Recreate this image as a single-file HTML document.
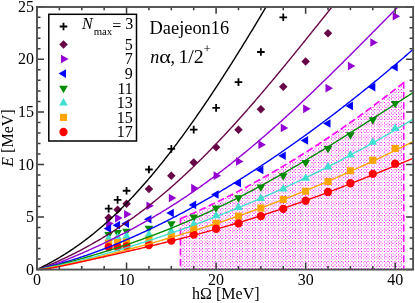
<!DOCTYPE html><html><head><meta charset="utf-8"><style>html,body{margin:0;padding:0;background:#fff}svg{display:block;will-change:transform}text{font-family:"Liberation Serif",serif;fill:#000}</style></head><body>
<svg width="415" height="303" viewBox="0 0 415 303">
<defs><pattern id="pt" x="345" y="222" width="53" height="53" patternUnits="userSpaceOnUse"><g fill="#ff00ff" shape-rendering="crispEdges"><path fill-opacity="1" d="M0,0h1v1h-1zM3,0h1v1h-1zM13,0h1v1h-1zM16,0h1v1h-1zM26,0h1v1h-1zM29,0h1v1h-1zM39,0h1v1h-1zM46,0h1v1h-1zM0,3h1v1h-1zM3,3h1v1h-1zM13,3h1v1h-1zM16,3h1v1h-1zM26,3h1v1h-1zM29,3h1v1h-1zM39,3h1v1h-1zM46,3h1v1h-1zM8,8h1v1h-1zM21,8h1v1h-1zM34,8h1v1h-1zM44,8h1v1h-1zM51,8h1v1h-1zM0,13h1v1h-1zM3,13h1v1h-1zM13,13h1v1h-1zM16,13h1v1h-1zM26,13h1v1h-1zM29,13h1v1h-1zM39,13h1v1h-1zM46,13h1v1h-1zM0,16h1v1h-1zM3,16h1v1h-1zM13,16h1v1h-1zM16,16h1v1h-1zM26,16h1v1h-1zM29,16h1v1h-1zM39,16h1v1h-1zM46,16h1v1h-1zM8,21h1v1h-1zM21,21h1v1h-1zM34,21h1v1h-1zM44,21h1v1h-1zM51,21h1v1h-1zM0,26h1v1h-1zM3,26h1v1h-1zM13,26h1v1h-1zM16,26h1v1h-1zM26,26h1v1h-1zM29,26h1v1h-1zM39,26h1v1h-1zM46,26h1v1h-1zM0,29h1v1h-1zM3,29h1v1h-1zM13,29h1v1h-1zM16,29h1v1h-1zM26,29h1v1h-1zM29,29h1v1h-1zM39,29h1v1h-1zM46,29h1v1h-1zM8,34h1v1h-1zM21,34h1v1h-1zM34,34h1v1h-1zM44,34h1v1h-1zM51,34h1v1h-1zM0,39h1v1h-1zM3,39h1v1h-1zM13,39h1v1h-1zM16,39h1v1h-1zM26,39h1v1h-1zM29,39h1v1h-1zM39,39h1v1h-1zM46,39h1v1h-1zM8,44h1v1h-1zM21,44h1v1h-1zM34,44h1v1h-1zM44,44h1v1h-1zM51,44h1v1h-1zM0,46h1v1h-1zM3,46h1v1h-1zM13,46h1v1h-1zM16,46h1v1h-1zM26,46h1v1h-1zM29,46h1v1h-1zM39,46h1v1h-1zM46,46h1v1h-1zM8,51h1v1h-1zM21,51h1v1h-1zM34,51h1v1h-1zM44,51h1v1h-1zM51,51h1v1h-1z"/><path fill-opacity="0.5" d="M6,0h1v1h-1zM7,0h1v1h-1zM9,0h1v1h-1zM10,0h1v1h-1zM19,0h1v1h-1zM20,0h1v1h-1zM22,0h1v1h-1zM23,0h1v1h-1zM32,0h1v1h-1zM33,0h1v1h-1zM35,0h1v1h-1zM36,0h1v1h-1zM42,0h1v1h-1zM43,0h1v1h-1zM49,0h1v1h-1zM50,0h1v1h-1zM8,1h1v1h-1zM21,1h1v1h-1zM34,1h1v1h-1zM44,1h1v1h-1zM51,1h1v1h-1zM8,2h1v1h-1zM21,2h1v1h-1zM34,2h1v1h-1zM44,2h1v1h-1zM51,2h1v1h-1zM6,3h1v1h-1zM7,3h1v1h-1zM9,3h1v1h-1zM10,3h1v1h-1zM19,3h1v1h-1zM20,3h1v1h-1zM22,3h1v1h-1zM23,3h1v1h-1zM32,3h1v1h-1zM33,3h1v1h-1zM35,3h1v1h-1zM36,3h1v1h-1zM42,3h1v1h-1zM43,3h1v1h-1zM49,3h1v1h-1zM50,3h1v1h-1zM8,5h1v1h-1zM21,5h1v1h-1zM34,5h1v1h-1zM44,5h1v1h-1zM51,5h1v1h-1zM0,6h1v1h-1zM3,6h1v1h-1zM13,6h1v1h-1zM16,6h1v1h-1zM26,6h1v1h-1zM29,6h1v1h-1zM39,6h1v1h-1zM46,6h1v1h-1zM0,7h1v1h-1zM3,7h1v1h-1zM13,7h1v1h-1zM16,7h1v1h-1zM26,7h1v1h-1zM29,7h1v1h-1zM39,7h1v1h-1zM46,7h1v1h-1zM1,8h1v1h-1zM2,8h1v1h-1zM5,8h1v1h-1zM11,8h1v1h-1zM14,8h1v1h-1zM15,8h1v1h-1zM18,8h1v1h-1zM24,8h1v1h-1zM27,8h1v1h-1zM28,8h1v1h-1zM31,8h1v1h-1zM37,8h1v1h-1zM40,8h1v1h-1zM41,8h1v1h-1zM47,8h1v1h-1zM48,8h1v1h-1zM0,9h1v1h-1zM3,9h1v1h-1zM13,9h1v1h-1zM16,9h1v1h-1zM26,9h1v1h-1zM29,9h1v1h-1zM39,9h1v1h-1zM46,9h1v1h-1zM0,10h1v1h-1zM3,10h1v1h-1zM13,10h1v1h-1zM16,10h1v1h-1zM26,10h1v1h-1zM29,10h1v1h-1zM39,10h1v1h-1zM46,10h1v1h-1zM8,11h1v1h-1zM21,11h1v1h-1zM34,11h1v1h-1zM44,11h1v1h-1zM51,11h1v1h-1zM6,13h1v1h-1zM7,13h1v1h-1zM9,13h1v1h-1zM10,13h1v1h-1zM19,13h1v1h-1zM20,13h1v1h-1zM22,13h1v1h-1zM23,13h1v1h-1zM32,13h1v1h-1zM33,13h1v1h-1zM35,13h1v1h-1zM36,13h1v1h-1zM42,13h1v1h-1zM43,13h1v1h-1zM49,13h1v1h-1zM50,13h1v1h-1zM8,14h1v1h-1zM21,14h1v1h-1zM34,14h1v1h-1zM44,14h1v1h-1zM51,14h1v1h-1zM8,15h1v1h-1zM21,15h1v1h-1zM34,15h1v1h-1zM44,15h1v1h-1zM51,15h1v1h-1zM6,16h1v1h-1zM7,16h1v1h-1zM9,16h1v1h-1zM10,16h1v1h-1zM19,16h1v1h-1zM20,16h1v1h-1zM22,16h1v1h-1zM23,16h1v1h-1zM32,16h1v1h-1zM33,16h1v1h-1zM35,16h1v1h-1zM36,16h1v1h-1zM42,16h1v1h-1zM43,16h1v1h-1zM49,16h1v1h-1zM50,16h1v1h-1zM8,18h1v1h-1zM21,18h1v1h-1zM34,18h1v1h-1zM44,18h1v1h-1zM51,18h1v1h-1zM0,19h1v1h-1zM3,19h1v1h-1zM13,19h1v1h-1zM16,19h1v1h-1zM26,19h1v1h-1zM29,19h1v1h-1zM39,19h1v1h-1zM46,19h1v1h-1zM0,20h1v1h-1zM3,20h1v1h-1zM13,20h1v1h-1zM16,20h1v1h-1zM26,20h1v1h-1zM29,20h1v1h-1zM39,20h1v1h-1zM46,20h1v1h-1zM1,21h1v1h-1zM2,21h1v1h-1zM5,21h1v1h-1zM11,21h1v1h-1zM14,21h1v1h-1zM15,21h1v1h-1zM18,21h1v1h-1zM24,21h1v1h-1zM27,21h1v1h-1zM28,21h1v1h-1zM31,21h1v1h-1zM37,21h1v1h-1zM40,21h1v1h-1zM41,21h1v1h-1zM47,21h1v1h-1zM48,21h1v1h-1zM0,22h1v1h-1zM3,22h1v1h-1zM13,22h1v1h-1zM16,22h1v1h-1zM26,22h1v1h-1zM29,22h1v1h-1zM39,22h1v1h-1zM46,22h1v1h-1zM0,23h1v1h-1zM3,23h1v1h-1zM13,23h1v1h-1zM16,23h1v1h-1zM26,23h1v1h-1zM29,23h1v1h-1zM39,23h1v1h-1zM46,23h1v1h-1zM8,24h1v1h-1zM21,24h1v1h-1zM34,24h1v1h-1zM44,24h1v1h-1zM51,24h1v1h-1zM6,26h1v1h-1zM7,26h1v1h-1zM9,26h1v1h-1zM10,26h1v1h-1zM19,26h1v1h-1zM20,26h1v1h-1zM22,26h1v1h-1zM23,26h1v1h-1zM32,26h1v1h-1zM33,26h1v1h-1zM35,26h1v1h-1zM36,26h1v1h-1zM42,26h1v1h-1zM43,26h1v1h-1zM49,26h1v1h-1zM50,26h1v1h-1zM8,27h1v1h-1zM21,27h1v1h-1zM34,27h1v1h-1zM44,27h1v1h-1zM51,27h1v1h-1zM8,28h1v1h-1zM21,28h1v1h-1zM34,28h1v1h-1zM44,28h1v1h-1zM51,28h1v1h-1zM6,29h1v1h-1zM7,29h1v1h-1zM9,29h1v1h-1zM10,29h1v1h-1zM19,29h1v1h-1zM20,29h1v1h-1zM22,29h1v1h-1zM23,29h1v1h-1zM32,29h1v1h-1zM33,29h1v1h-1zM35,29h1v1h-1zM36,29h1v1h-1zM42,29h1v1h-1zM43,29h1v1h-1zM49,29h1v1h-1zM50,29h1v1h-1zM8,31h1v1h-1zM21,31h1v1h-1zM34,31h1v1h-1zM44,31h1v1h-1zM51,31h1v1h-1zM0,32h1v1h-1zM3,32h1v1h-1zM13,32h1v1h-1zM16,32h1v1h-1zM26,32h1v1h-1zM29,32h1v1h-1zM39,32h1v1h-1zM46,32h1v1h-1zM0,33h1v1h-1zM3,33h1v1h-1zM13,33h1v1h-1zM16,33h1v1h-1zM26,33h1v1h-1zM29,33h1v1h-1zM39,33h1v1h-1zM46,33h1v1h-1zM1,34h1v1h-1zM2,34h1v1h-1zM5,34h1v1h-1zM11,34h1v1h-1zM14,34h1v1h-1zM15,34h1v1h-1zM18,34h1v1h-1zM24,34h1v1h-1zM27,34h1v1h-1zM28,34h1v1h-1zM31,34h1v1h-1zM37,34h1v1h-1zM40,34h1v1h-1zM41,34h1v1h-1zM47,34h1v1h-1zM48,34h1v1h-1zM0,35h1v1h-1zM3,35h1v1h-1zM13,35h1v1h-1zM16,35h1v1h-1zM26,35h1v1h-1zM29,35h1v1h-1zM39,35h1v1h-1zM46,35h1v1h-1zM0,36h1v1h-1zM3,36h1v1h-1zM13,36h1v1h-1zM16,36h1v1h-1zM26,36h1v1h-1zM29,36h1v1h-1zM39,36h1v1h-1zM46,36h1v1h-1zM8,37h1v1h-1zM21,37h1v1h-1zM34,37h1v1h-1zM44,37h1v1h-1zM51,37h1v1h-1zM6,39h1v1h-1zM7,39h1v1h-1zM9,39h1v1h-1zM10,39h1v1h-1zM19,39h1v1h-1zM20,39h1v1h-1zM22,39h1v1h-1zM23,39h1v1h-1zM32,39h1v1h-1zM33,39h1v1h-1zM35,39h1v1h-1zM36,39h1v1h-1zM42,39h1v1h-1zM43,39h1v1h-1zM49,39h1v1h-1zM50,39h1v1h-1zM8,40h1v1h-1zM21,40h1v1h-1zM34,40h1v1h-1zM44,40h1v1h-1zM51,40h1v1h-1zM8,41h1v1h-1zM21,41h1v1h-1zM34,41h1v1h-1zM44,41h1v1h-1zM51,41h1v1h-1zM0,42h1v1h-1zM3,42h1v1h-1zM13,42h1v1h-1zM16,42h1v1h-1zM26,42h1v1h-1zM29,42h1v1h-1zM39,42h1v1h-1zM46,42h1v1h-1zM0,43h1v1h-1zM3,43h1v1h-1zM13,43h1v1h-1zM16,43h1v1h-1zM26,43h1v1h-1zM29,43h1v1h-1zM39,43h1v1h-1zM46,43h1v1h-1zM1,44h1v1h-1zM2,44h1v1h-1zM5,44h1v1h-1zM11,44h1v1h-1zM14,44h1v1h-1zM15,44h1v1h-1zM18,44h1v1h-1zM24,44h1v1h-1zM27,44h1v1h-1zM28,44h1v1h-1zM31,44h1v1h-1zM37,44h1v1h-1zM40,44h1v1h-1zM41,44h1v1h-1zM47,44h1v1h-1zM48,44h1v1h-1zM6,46h1v1h-1zM7,46h1v1h-1zM9,46h1v1h-1zM10,46h1v1h-1zM19,46h1v1h-1zM20,46h1v1h-1zM22,46h1v1h-1zM23,46h1v1h-1zM32,46h1v1h-1zM33,46h1v1h-1zM35,46h1v1h-1zM36,46h1v1h-1zM42,46h1v1h-1zM43,46h1v1h-1zM49,46h1v1h-1zM50,46h1v1h-1zM8,47h1v1h-1zM21,47h1v1h-1zM34,47h1v1h-1zM44,47h1v1h-1zM51,47h1v1h-1zM8,48h1v1h-1zM21,48h1v1h-1zM34,48h1v1h-1zM44,48h1v1h-1zM51,48h1v1h-1zM0,49h1v1h-1zM3,49h1v1h-1zM13,49h1v1h-1zM16,49h1v1h-1zM26,49h1v1h-1zM29,49h1v1h-1zM39,49h1v1h-1zM46,49h1v1h-1zM0,50h1v1h-1zM3,50h1v1h-1zM13,50h1v1h-1zM16,50h1v1h-1zM26,50h1v1h-1zM29,50h1v1h-1zM39,50h1v1h-1zM46,50h1v1h-1zM1,51h1v1h-1zM2,51h1v1h-1zM5,51h1v1h-1zM11,51h1v1h-1zM14,51h1v1h-1zM15,51h1v1h-1zM18,51h1v1h-1zM24,51h1v1h-1zM27,51h1v1h-1zM28,51h1v1h-1zM31,51h1v1h-1zM37,51h1v1h-1zM40,51h1v1h-1zM41,51h1v1h-1zM47,51h1v1h-1zM48,51h1v1h-1z"/><path fill-opacity="0.25" d="M1,1h1v1h-1zM2,1h1v1h-1zM5,1h1v1h-1zM11,1h1v1h-1zM14,1h1v1h-1zM15,1h1v1h-1zM18,1h1v1h-1zM24,1h1v1h-1zM27,1h1v1h-1zM28,1h1v1h-1zM31,1h1v1h-1zM37,1h1v1h-1zM40,1h1v1h-1zM41,1h1v1h-1zM47,1h1v1h-1zM48,1h1v1h-1zM1,2h1v1h-1zM2,2h1v1h-1zM5,2h1v1h-1zM11,2h1v1h-1zM14,2h1v1h-1zM15,2h1v1h-1zM18,2h1v1h-1zM24,2h1v1h-1zM27,2h1v1h-1zM28,2h1v1h-1zM31,2h1v1h-1zM37,2h1v1h-1zM40,2h1v1h-1zM41,2h1v1h-1zM47,2h1v1h-1zM48,2h1v1h-1zM1,5h1v1h-1zM2,5h1v1h-1zM5,5h1v1h-1zM11,5h1v1h-1zM14,5h1v1h-1zM15,5h1v1h-1zM18,5h1v1h-1zM24,5h1v1h-1zM27,5h1v1h-1zM28,5h1v1h-1zM31,5h1v1h-1zM37,5h1v1h-1zM40,5h1v1h-1zM41,5h1v1h-1zM47,5h1v1h-1zM48,5h1v1h-1zM6,6h1v1h-1zM7,6h1v1h-1zM9,6h1v1h-1zM10,6h1v1h-1zM19,6h1v1h-1zM20,6h1v1h-1zM22,6h1v1h-1zM23,6h1v1h-1zM32,6h1v1h-1zM33,6h1v1h-1zM35,6h1v1h-1zM36,6h1v1h-1zM42,6h1v1h-1zM43,6h1v1h-1zM49,6h1v1h-1zM50,6h1v1h-1zM6,7h1v1h-1zM7,7h1v1h-1zM9,7h1v1h-1zM10,7h1v1h-1zM19,7h1v1h-1zM20,7h1v1h-1zM22,7h1v1h-1zM23,7h1v1h-1zM32,7h1v1h-1zM33,7h1v1h-1zM35,7h1v1h-1zM36,7h1v1h-1zM42,7h1v1h-1zM43,7h1v1h-1zM49,7h1v1h-1zM50,7h1v1h-1zM6,9h1v1h-1zM7,9h1v1h-1zM9,9h1v1h-1zM10,9h1v1h-1zM19,9h1v1h-1zM20,9h1v1h-1zM22,9h1v1h-1zM23,9h1v1h-1zM32,9h1v1h-1zM33,9h1v1h-1zM35,9h1v1h-1zM36,9h1v1h-1zM42,9h1v1h-1zM43,9h1v1h-1zM49,9h1v1h-1zM50,9h1v1h-1zM6,10h1v1h-1zM7,10h1v1h-1zM9,10h1v1h-1zM10,10h1v1h-1zM19,10h1v1h-1zM20,10h1v1h-1zM22,10h1v1h-1zM23,10h1v1h-1zM32,10h1v1h-1zM33,10h1v1h-1zM35,10h1v1h-1zM36,10h1v1h-1zM42,10h1v1h-1zM43,10h1v1h-1zM49,10h1v1h-1zM50,10h1v1h-1zM1,11h1v1h-1zM2,11h1v1h-1zM5,11h1v1h-1zM11,11h1v1h-1zM14,11h1v1h-1zM15,11h1v1h-1zM18,11h1v1h-1zM24,11h1v1h-1zM27,11h1v1h-1zM28,11h1v1h-1zM31,11h1v1h-1zM37,11h1v1h-1zM40,11h1v1h-1zM41,11h1v1h-1zM47,11h1v1h-1zM48,11h1v1h-1zM1,14h1v1h-1zM2,14h1v1h-1zM5,14h1v1h-1zM11,14h1v1h-1zM14,14h1v1h-1zM15,14h1v1h-1zM18,14h1v1h-1zM24,14h1v1h-1zM27,14h1v1h-1zM28,14h1v1h-1zM31,14h1v1h-1zM37,14h1v1h-1zM40,14h1v1h-1zM41,14h1v1h-1zM47,14h1v1h-1zM48,14h1v1h-1zM1,15h1v1h-1zM2,15h1v1h-1zM5,15h1v1h-1zM11,15h1v1h-1zM14,15h1v1h-1zM15,15h1v1h-1zM18,15h1v1h-1zM24,15h1v1h-1zM27,15h1v1h-1zM28,15h1v1h-1zM31,15h1v1h-1zM37,15h1v1h-1zM40,15h1v1h-1zM41,15h1v1h-1zM47,15h1v1h-1zM48,15h1v1h-1zM1,18h1v1h-1zM2,18h1v1h-1zM5,18h1v1h-1zM11,18h1v1h-1zM14,18h1v1h-1zM15,18h1v1h-1zM18,18h1v1h-1zM24,18h1v1h-1zM27,18h1v1h-1zM28,18h1v1h-1zM31,18h1v1h-1zM37,18h1v1h-1zM40,18h1v1h-1zM41,18h1v1h-1zM47,18h1v1h-1zM48,18h1v1h-1zM6,19h1v1h-1zM7,19h1v1h-1zM9,19h1v1h-1zM10,19h1v1h-1zM19,19h1v1h-1zM20,19h1v1h-1zM22,19h1v1h-1zM23,19h1v1h-1zM32,19h1v1h-1zM33,19h1v1h-1zM35,19h1v1h-1zM36,19h1v1h-1zM42,19h1v1h-1zM43,19h1v1h-1zM49,19h1v1h-1zM50,19h1v1h-1zM6,20h1v1h-1zM7,20h1v1h-1zM9,20h1v1h-1zM10,20h1v1h-1zM19,20h1v1h-1zM20,20h1v1h-1zM22,20h1v1h-1zM23,20h1v1h-1zM32,20h1v1h-1zM33,20h1v1h-1zM35,20h1v1h-1zM36,20h1v1h-1zM42,20h1v1h-1zM43,20h1v1h-1zM49,20h1v1h-1zM50,20h1v1h-1zM6,22h1v1h-1zM7,22h1v1h-1zM9,22h1v1h-1zM10,22h1v1h-1zM19,22h1v1h-1zM20,22h1v1h-1zM22,22h1v1h-1zM23,22h1v1h-1zM32,22h1v1h-1zM33,22h1v1h-1zM35,22h1v1h-1zM36,22h1v1h-1zM42,22h1v1h-1zM43,22h1v1h-1zM49,22h1v1h-1zM50,22h1v1h-1zM6,23h1v1h-1zM7,23h1v1h-1zM9,23h1v1h-1zM10,23h1v1h-1zM19,23h1v1h-1zM20,23h1v1h-1zM22,23h1v1h-1zM23,23h1v1h-1zM32,23h1v1h-1zM33,23h1v1h-1zM35,23h1v1h-1zM36,23h1v1h-1zM42,23h1v1h-1zM43,23h1v1h-1zM49,23h1v1h-1zM50,23h1v1h-1zM1,24h1v1h-1zM2,24h1v1h-1zM5,24h1v1h-1zM11,24h1v1h-1zM14,24h1v1h-1zM15,24h1v1h-1zM18,24h1v1h-1zM24,24h1v1h-1zM27,24h1v1h-1zM28,24h1v1h-1zM31,24h1v1h-1zM37,24h1v1h-1zM40,24h1v1h-1zM41,24h1v1h-1zM47,24h1v1h-1zM48,24h1v1h-1zM1,27h1v1h-1zM2,27h1v1h-1zM5,27h1v1h-1zM11,27h1v1h-1zM14,27h1v1h-1zM15,27h1v1h-1zM18,27h1v1h-1zM24,27h1v1h-1zM27,27h1v1h-1zM28,27h1v1h-1zM31,27h1v1h-1zM37,27h1v1h-1zM40,27h1v1h-1zM41,27h1v1h-1zM47,27h1v1h-1zM48,27h1v1h-1zM1,28h1v1h-1zM2,28h1v1h-1zM5,28h1v1h-1zM11,28h1v1h-1zM14,28h1v1h-1zM15,28h1v1h-1zM18,28h1v1h-1zM24,28h1v1h-1zM27,28h1v1h-1zM28,28h1v1h-1zM31,28h1v1h-1zM37,28h1v1h-1zM40,28h1v1h-1zM41,28h1v1h-1zM47,28h1v1h-1zM48,28h1v1h-1zM1,31h1v1h-1zM2,31h1v1h-1zM5,31h1v1h-1zM11,31h1v1h-1zM14,31h1v1h-1zM15,31h1v1h-1zM18,31h1v1h-1zM24,31h1v1h-1zM27,31h1v1h-1zM28,31h1v1h-1zM31,31h1v1h-1zM37,31h1v1h-1zM40,31h1v1h-1zM41,31h1v1h-1zM47,31h1v1h-1zM48,31h1v1h-1zM6,32h1v1h-1zM7,32h1v1h-1zM9,32h1v1h-1zM10,32h1v1h-1zM19,32h1v1h-1zM20,32h1v1h-1zM22,32h1v1h-1zM23,32h1v1h-1zM32,32h1v1h-1zM33,32h1v1h-1zM35,32h1v1h-1zM36,32h1v1h-1zM42,32h1v1h-1zM43,32h1v1h-1zM49,32h1v1h-1zM50,32h1v1h-1zM6,33h1v1h-1zM7,33h1v1h-1zM9,33h1v1h-1zM10,33h1v1h-1zM19,33h1v1h-1zM20,33h1v1h-1zM22,33h1v1h-1zM23,33h1v1h-1zM32,33h1v1h-1zM33,33h1v1h-1zM35,33h1v1h-1zM36,33h1v1h-1zM42,33h1v1h-1zM43,33h1v1h-1zM49,33h1v1h-1zM50,33h1v1h-1zM6,35h1v1h-1zM7,35h1v1h-1zM9,35h1v1h-1zM10,35h1v1h-1zM19,35h1v1h-1zM20,35h1v1h-1zM22,35h1v1h-1zM23,35h1v1h-1zM32,35h1v1h-1zM33,35h1v1h-1zM35,35h1v1h-1zM36,35h1v1h-1zM42,35h1v1h-1zM43,35h1v1h-1zM49,35h1v1h-1zM50,35h1v1h-1zM6,36h1v1h-1zM7,36h1v1h-1zM9,36h1v1h-1zM10,36h1v1h-1zM19,36h1v1h-1zM20,36h1v1h-1zM22,36h1v1h-1zM23,36h1v1h-1zM32,36h1v1h-1zM33,36h1v1h-1zM35,36h1v1h-1zM36,36h1v1h-1zM42,36h1v1h-1zM43,36h1v1h-1zM49,36h1v1h-1zM50,36h1v1h-1zM1,37h1v1h-1zM2,37h1v1h-1zM5,37h1v1h-1zM11,37h1v1h-1zM14,37h1v1h-1zM15,37h1v1h-1zM18,37h1v1h-1zM24,37h1v1h-1zM27,37h1v1h-1zM28,37h1v1h-1zM31,37h1v1h-1zM37,37h1v1h-1zM40,37h1v1h-1zM41,37h1v1h-1zM47,37h1v1h-1zM48,37h1v1h-1zM1,40h1v1h-1zM2,40h1v1h-1zM5,40h1v1h-1zM11,40h1v1h-1zM14,40h1v1h-1zM15,40h1v1h-1zM18,40h1v1h-1zM24,40h1v1h-1zM27,40h1v1h-1zM28,40h1v1h-1zM31,40h1v1h-1zM37,40h1v1h-1zM40,40h1v1h-1zM41,40h1v1h-1zM47,40h1v1h-1zM48,40h1v1h-1zM1,41h1v1h-1zM2,41h1v1h-1zM5,41h1v1h-1zM11,41h1v1h-1zM14,41h1v1h-1zM15,41h1v1h-1zM18,41h1v1h-1zM24,41h1v1h-1zM27,41h1v1h-1zM28,41h1v1h-1zM31,41h1v1h-1zM37,41h1v1h-1zM40,41h1v1h-1zM41,41h1v1h-1zM47,41h1v1h-1zM48,41h1v1h-1zM6,42h1v1h-1zM7,42h1v1h-1zM9,42h1v1h-1zM10,42h1v1h-1zM19,42h1v1h-1zM20,42h1v1h-1zM22,42h1v1h-1zM23,42h1v1h-1zM32,42h1v1h-1zM33,42h1v1h-1zM35,42h1v1h-1zM36,42h1v1h-1zM42,42h1v1h-1zM43,42h1v1h-1zM49,42h1v1h-1zM50,42h1v1h-1zM6,43h1v1h-1zM7,43h1v1h-1zM9,43h1v1h-1zM10,43h1v1h-1zM19,43h1v1h-1zM20,43h1v1h-1zM22,43h1v1h-1zM23,43h1v1h-1zM32,43h1v1h-1zM33,43h1v1h-1zM35,43h1v1h-1zM36,43h1v1h-1zM42,43h1v1h-1zM43,43h1v1h-1zM49,43h1v1h-1zM50,43h1v1h-1zM1,47h1v1h-1zM2,47h1v1h-1zM5,47h1v1h-1zM11,47h1v1h-1zM14,47h1v1h-1zM15,47h1v1h-1zM18,47h1v1h-1zM24,47h1v1h-1zM27,47h1v1h-1zM28,47h1v1h-1zM31,47h1v1h-1zM37,47h1v1h-1zM40,47h1v1h-1zM41,47h1v1h-1zM47,47h1v1h-1zM48,47h1v1h-1zM1,48h1v1h-1zM2,48h1v1h-1zM5,48h1v1h-1zM11,48h1v1h-1zM14,48h1v1h-1zM15,48h1v1h-1zM18,48h1v1h-1zM24,48h1v1h-1zM27,48h1v1h-1zM28,48h1v1h-1zM31,48h1v1h-1zM37,48h1v1h-1zM40,48h1v1h-1zM41,48h1v1h-1zM47,48h1v1h-1zM48,48h1v1h-1zM6,49h1v1h-1zM7,49h1v1h-1zM9,49h1v1h-1zM10,49h1v1h-1zM19,49h1v1h-1zM20,49h1v1h-1zM22,49h1v1h-1zM23,49h1v1h-1zM32,49h1v1h-1zM33,49h1v1h-1zM35,49h1v1h-1zM36,49h1v1h-1zM42,49h1v1h-1zM43,49h1v1h-1zM49,49h1v1h-1zM50,49h1v1h-1zM6,50h1v1h-1zM7,50h1v1h-1zM9,50h1v1h-1zM10,50h1v1h-1zM19,50h1v1h-1zM20,50h1v1h-1zM22,50h1v1h-1zM23,50h1v1h-1zM32,50h1v1h-1zM33,50h1v1h-1zM35,50h1v1h-1zM36,50h1v1h-1zM42,50h1v1h-1zM43,50h1v1h-1zM49,50h1v1h-1zM50,50h1v1h-1z"/></g></pattern>
<clipPath id="cp"><rect x="37.0" y="6.8" width="376.1" height="262.75"/></clipPath></defs>
<rect x="0" y="0" width="415" height="303" fill="#fff"/>
<polygon points="180.46,269.55 180.46,218.78 184.92,216.84 189.38,214.88 193.85,212.88 198.31,210.85 202.78,208.79 207.24,206.70 211.71,204.57 216.17,202.42 220.64,200.23 225.10,198.00 229.57,195.75 234.03,193.46 238.50,191.14 242.96,188.79 247.43,186.40 251.89,183.99 256.36,181.54 260.82,179.06 265.29,176.55 269.75,174.00 274.22,171.42 278.68,168.81 283.15,166.17 287.61,163.49 292.08,160.79 296.54,158.05 301.01,155.28 305.47,152.47 309.94,149.64 314.40,146.77 318.87,143.87 323.33,140.93 327.80,137.97 332.26,134.97 336.72,131.94 341.19,128.88 345.65,125.78 350.12,122.66 354.58,119.50 359.05,116.31 363.51,113.08 367.98,109.83 372.44,106.54 376.91,103.22 381.37,99.86 385.84,96.48 390.30,93.06 394.77,89.61 399.23,86.13 403.70,82.61 403.70,269.55" fill="url(#pt)"/>
<g fill="none" stroke="#ff00ff" stroke-width="1.6" stroke-dasharray="7 3.2"><polyline points="403.70,82.61 399.23,86.13 394.77,89.61 390.30,93.06 385.84,96.48 381.37,99.86 376.91,103.22 372.44,106.54 367.98,109.83 363.51,113.08 359.05,116.31 354.58,119.50 350.12,122.66 345.65,125.78 341.19,128.88 336.72,131.94 332.26,134.97 327.80,137.97 323.33,140.93 318.87,143.87 314.40,146.77 309.94,149.64 305.47,152.47 301.01,155.28 296.54,158.05 292.08,160.79 287.61,163.49 283.15,166.17 278.68,168.81 274.22,171.42 269.75,174.00 265.29,176.55 260.82,179.06 256.36,181.54 251.89,183.99 247.43,186.40 242.96,188.79 238.50,191.14 234.03,193.46 229.57,195.75 225.10,198.00 220.64,200.23 216.17,202.42 211.71,204.57 207.24,206.70 202.78,208.79 198.31,210.85 193.85,212.88 189.38,214.88 184.92,216.84 180.46,218.78"/><path d="M403.70,81.81V269.55M180.46,217.98V269.55"/></g>
<g clip-path="url(#cp)">
<path d="M104.84,208.59H112.44M108.64,204.79V212.39" stroke="#000000" stroke-width="1.8" fill="none"/>
<path d="M113.79,199.87H121.39M117.59,196.07V203.67" stroke="#000000" stroke-width="1.8" fill="none"/>
<path d="M122.75,190.73H130.35M126.55,186.93V194.53" stroke="#000000" stroke-width="1.8" fill="none"/>
<path d="M145.13,169.49H152.73M148.93,165.69V173.29" stroke="#000000" stroke-width="1.8" fill="none"/>
<path d="M167.52,148.90H175.12M171.32,145.10V152.70" stroke="#000000" stroke-width="1.8" fill="none"/>
<path d="M189.91,129.66H197.51M193.71,125.86V133.46" stroke="#000000" stroke-width="1.8" fill="none"/>
<path d="M212.30,107.91H219.90M216.10,104.11V111.71" stroke="#000000" stroke-width="1.8" fill="none"/>
<path d="M234.68,82.16H242.28M238.48,78.36V85.96" stroke="#000000" stroke-width="1.8" fill="none"/>
<path d="M257.07,51.99H264.67M260.87,48.19V55.79" stroke="#000000" stroke-width="1.8" fill="none"/>
<path d="M279.46,17.31H287.06M283.26,13.51V21.11" stroke="#000000" stroke-width="1.8" fill="none"/>
<polygon points="104.39,217.74 108.64,213.49 112.89,217.74 108.64,221.99" fill="#670748"/>
<polygon points="113.34,209.85 117.59,205.60 121.84,209.85 117.59,214.10" fill="#670748"/>
<polygon points="122.30,203.65 126.55,199.40 130.80,203.65 126.55,207.90" fill="#670748"/>
<polygon points="144.68,188.94 148.93,184.69 153.18,188.94 148.93,193.19" fill="#670748"/>
<polygon points="167.07,175.70 171.32,171.45 175.57,175.70 171.32,179.95" fill="#670748"/>
<polygon points="189.46,162.45 193.71,158.20 197.96,162.45 193.71,166.70" fill="#670748"/>
<polygon points="211.85,147.21 216.10,142.96 220.35,147.21 216.10,151.46" fill="#670748"/>
<polygon points="234.23,129.66 238.48,125.41 242.73,129.66 238.48,133.91" fill="#670748"/>
<polygon points="256.62,109.17 260.87,104.92 265.12,109.17 260.87,113.42" fill="#670748"/>
<polygon points="279.01,86.68 283.26,82.43 287.51,86.68 283.26,90.93" fill="#670748"/>
<polygon points="301.39,61.45 305.64,57.20 309.89,61.45 305.64,65.70" fill="#670748"/>
<polygon points="323.78,33.18 328.03,28.93 332.28,33.18 328.03,37.43" fill="#670748"/>
<polygon points="113.64,223.62 106.14,219.29 106.14,227.95" fill="#9400d3"/>
<polygon points="122.59,218.05 115.09,213.72 115.09,222.38" fill="#9400d3"/>
<polygon points="131.55,214.27 124.05,209.94 124.05,218.60" fill="#9400d3"/>
<polygon points="153.93,205.75 146.43,201.42 146.43,210.08" fill="#9400d3"/>
<polygon points="176.32,197.98 168.82,193.65 168.82,202.31" fill="#9400d3"/>
<polygon points="198.71,188.20 191.21,183.87 191.21,192.53" fill="#9400d3"/>
<polygon points="221.10,175.70 213.60,171.37 213.60,180.03" fill="#9400d3"/>
<polygon points="243.48,161.40 235.98,157.07 235.98,165.73" fill="#9400d3"/>
<polygon points="265.87,144.69 258.37,140.36 258.37,149.02" fill="#9400d3"/>
<polygon points="288.26,127.88 280.76,123.55 280.76,132.21" fill="#9400d3"/>
<polygon points="310.64,108.85 303.14,104.52 303.14,113.18" fill="#9400d3"/>
<polygon points="333.03,88.15 325.53,83.82 325.53,92.48" fill="#9400d3"/>
<polygon points="355.42,65.97 347.92,61.64 347.92,70.30" fill="#9400d3"/>
<polygon points="377.80,42.53 370.30,38.20 370.30,46.86" fill="#9400d3"/>
<polygon points="400.19,16.26 392.69,11.93 392.69,20.59" fill="#9400d3"/>
<polygon points="103.64,228.56 111.14,224.23 111.14,232.89" fill="#0000ff"/>
<polygon points="112.59,225.20 120.09,220.87 120.09,229.53" fill="#0000ff"/>
<polygon points="121.55,223.62 129.05,219.29 129.05,227.95" fill="#0000ff"/>
<polygon points="143.93,219.21 151.43,214.88 151.43,223.54" fill="#0000ff"/>
<polygon points="166.32,213.01 173.82,208.68 173.82,217.34" fill="#0000ff"/>
<polygon points="188.71,204.91 196.21,200.58 196.21,209.24" fill="#0000ff"/>
<polygon points="211.10,194.51 218.60,190.18 218.60,198.84" fill="#0000ff"/>
<polygon points="233.48,183.26 240.98,178.93 240.98,187.59" fill="#0000ff"/>
<polygon points="255.87,169.92 263.37,165.59 263.37,174.25" fill="#0000ff"/>
<polygon points="278.26,155.73 285.76,151.40 285.76,160.06" fill="#0000ff"/>
<polygon points="300.64,140.38 308.14,136.05 308.14,144.71" fill="#0000ff"/>
<polygon points="323.03,123.46 330.53,119.13 330.53,127.79" fill="#0000ff"/>
<polygon points="345.42,105.91 352.92,101.58 352.92,110.24" fill="#0000ff"/>
<polygon points="367.80,87.10 375.30,82.77 375.30,91.43" fill="#0000ff"/>
<polygon points="390.19,67.23 397.69,62.90 397.69,71.56" fill="#0000ff"/>
<polygon points="108.64,239.55 104.31,232.05 112.97,232.05" fill="#008b00"/>
<polygon points="117.59,237.55 113.26,230.05 121.92,230.05" fill="#008b00"/>
<polygon points="126.55,236.29 122.22,228.79 130.88,228.79" fill="#008b00"/>
<polygon points="148.93,233.25 144.60,225.75 153.26,225.75" fill="#008b00"/>
<polygon points="171.32,228.73 166.99,221.23 175.65,221.23" fill="#008b00"/>
<polygon points="193.71,222.00 189.38,214.50 198.04,214.50" fill="#008b00"/>
<polygon points="216.10,212.96 211.77,205.46 220.43,205.46" fill="#008b00"/>
<polygon points="238.48,202.77 234.15,195.27 242.81,195.27" fill="#008b00"/>
<polygon points="260.87,191.94 256.54,184.44 265.20,184.44" fill="#008b00"/>
<polygon points="283.26,180.70 278.93,173.20 287.59,173.20" fill="#008b00"/>
<polygon points="305.64,167.45 301.31,159.95 309.97,159.95" fill="#008b00"/>
<polygon points="328.03,153.47 323.70,145.97 332.36,145.97" fill="#008b00"/>
<polygon points="350.42,139.71 346.09,132.21 354.75,132.21" fill="#008b00"/>
<polygon points="372.80,124.68 368.47,117.18 377.13,117.18" fill="#008b00"/>
<polygon points="395.19,108.39 390.86,100.89 399.52,100.89" fill="#008b00"/>
<polygon points="108.64,233.76 104.31,241.26 112.97,241.26" fill="#40e0d0"/>
<polygon points="117.59,232.49 113.26,239.99 121.92,239.99" fill="#40e0d0"/>
<polygon points="126.55,231.23 122.22,238.73 130.88,238.73" fill="#40e0d0"/>
<polygon points="148.93,229.55 144.60,237.05 153.26,237.05" fill="#40e0d0"/>
<polygon points="171.32,226.29 166.99,233.79 175.65,233.79" fill="#40e0d0"/>
<polygon points="193.71,219.36 189.38,226.86 198.04,226.86" fill="#40e0d0"/>
<polygon points="216.10,210.63 211.77,218.13 220.43,218.13" fill="#40e0d0"/>
<polygon points="238.48,202.54 234.15,210.04 242.81,210.04" fill="#40e0d0"/>
<polygon points="260.87,193.40 256.54,200.90 265.20,200.90" fill="#40e0d0"/>
<polygon points="283.26,183.94 278.93,191.44 287.59,191.44" fill="#40e0d0"/>
<polygon points="305.64,173.22 301.31,180.72 309.97,180.72" fill="#40e0d0"/>
<polygon points="328.03,161.97 323.70,169.47 332.36,169.47" fill="#40e0d0"/>
<polygon points="350.42,149.99 346.09,157.49 354.75,157.49" fill="#40e0d0"/>
<polygon points="372.80,137.17 368.47,144.67 377.13,144.67" fill="#40e0d0"/>
<polygon points="395.19,123.40 390.86,130.90 399.52,130.90" fill="#40e0d0"/>
<rect x="105.09" y="239.51" width="7.1" height="7.1" fill="#ffa500"/>
<rect x="114.04" y="238.99" width="7.1" height="7.1" fill="#ffa500"/>
<rect x="123.00" y="238.46" width="7.1" height="7.1" fill="#ffa500"/>
<rect x="145.38" y="236.47" width="7.1" height="7.1" fill="#ffa500"/>
<rect x="167.77" y="232.68" width="7.1" height="7.1" fill="#ffa500"/>
<rect x="190.16" y="225.22" width="7.1" height="7.1" fill="#ffa500"/>
<rect x="212.55" y="219.76" width="7.1" height="7.1" fill="#ffa500"/>
<rect x="234.93" y="212.61" width="7.1" height="7.1" fill="#ffa500"/>
<rect x="257.32" y="204.52" width="7.1" height="7.1" fill="#ffa500"/>
<rect x="279.71" y="195.90" width="7.1" height="7.1" fill="#ffa500"/>
<rect x="302.09" y="187.70" width="7.1" height="7.1" fill="#ffa500"/>
<rect x="324.48" y="177.93" width="7.1" height="7.1" fill="#ffa500"/>
<rect x="346.87" y="167.21" width="7.1" height="7.1" fill="#ffa500"/>
<rect x="369.25" y="156.70" width="7.1" height="7.1" fill="#ffa500"/>
<rect x="391.64" y="144.92" width="7.1" height="7.1" fill="#ffa500"/>
<circle cx="108.64" cy="247.06" r="4.15" fill="#ff0000"/>
<circle cx="117.59" cy="247.06" r="4.15" fill="#ff0000"/>
<circle cx="126.55" cy="246.32" r="4.15" fill="#ff0000"/>
<circle cx="148.93" cy="245.06" r="4.15" fill="#ff0000"/>
<circle cx="171.32" cy="240.54" r="4.15" fill="#ff0000"/>
<circle cx="193.71" cy="234.55" r="4.15" fill="#ff0000"/>
<circle cx="216.10" cy="228.77" r="4.15" fill="#ff0000"/>
<circle cx="238.48" cy="223.31" r="4.15" fill="#ff0000"/>
<circle cx="260.87" cy="216.16" r="4.15" fill="#ff0000"/>
<circle cx="283.26" cy="208.80" r="4.15" fill="#ff0000"/>
<circle cx="305.64" cy="200.71" r="4.15" fill="#ff0000"/>
<circle cx="328.03" cy="191.99" r="4.15" fill="#ff0000"/>
<circle cx="350.42" cy="183.26" r="4.15" fill="#ff0000"/>
<circle cx="372.80" cy="173.91" r="4.15" fill="#ff0000"/>
<circle cx="395.19" cy="163.71" r="4.15" fill="#ff0000"/>
</g>
<g clip-path="url(#cp)" fill="none" stroke-width="1.4">
<polyline points="37.00,269.55 37.90,269.11 38.79,268.67 39.69,268.22 40.58,267.78 41.48,267.32 42.37,266.87 43.27,266.41 44.16,265.95 45.06,265.49 45.95,265.02 46.85,264.55 47.75,264.07 48.64,263.59 49.54,263.11 50.43,262.62 51.33,262.13 52.22,261.64 53.12,261.14 54.01,260.63 54.91,260.13 55.80,259.61 56.70,259.10 57.60,258.58 58.49,258.05 59.39,257.52 60.28,256.99 61.18,256.45 62.07,255.90 62.97,255.36 63.86,254.80 64.76,254.25 65.66,253.68 66.55,253.11 67.45,252.54 68.34,251.97 69.24,251.38 70.13,250.80 71.03,250.20 71.92,249.61 72.82,249.01 73.71,248.40 74.61,247.79 75.51,247.17 76.40,246.55 77.30,245.92 78.19,245.29 79.09,244.65 79.98,244.01 80.88,243.36 81.77,242.70 82.67,242.05 83.56,241.38 84.46,240.71 85.36,240.04 86.25,239.36 87.15,238.67 88.04,237.98 88.94,237.29 89.83,236.59 90.73,235.88 91.62,235.17 92.52,234.45 93.42,233.73 94.31,233.00 95.21,232.27 96.10,231.53 97.00,230.79 97.89,230.04 98.79,229.29 99.68,228.53 100.58,227.76 101.47,226.99 102.37,226.22 103.27,225.44 104.16,224.65 105.06,223.86 105.95,223.06 106.85,222.26 107.74,221.45 108.64,220.64 109.53,219.82 110.43,219.00 111.32,218.17 112.22,217.33 113.12,216.49 114.01,215.65 114.91,214.80 115.80,213.94 116.70,213.08 117.59,212.21 118.49,211.34 119.38,210.46 120.28,209.58 121.17,208.69 122.07,207.80 122.97,206.90 123.86,206.00 124.76,205.09 125.65,204.18 126.55,203.26 127.44,202.33 128.34,201.40 129.23,200.47 130.13,199.53 131.03,198.58 131.92,197.63 132.82,196.68 133.71,195.72 134.61,194.75 135.50,193.78 136.40,192.80 137.29,191.82 138.19,190.83 139.08,189.84 139.98,188.85 140.88,187.84 141.77,186.84 142.67,185.83 143.56,184.81 144.46,183.79 145.35,182.76 146.25,181.73 147.14,180.69 148.04,179.65 148.93,178.60 149.83,177.55 150.73,176.49 151.62,175.43 152.52,174.37 153.41,173.30 154.31,172.22 155.20,171.14 156.10,170.05 156.99,168.96 157.89,167.87 158.78,166.77 159.68,165.66 160.58,164.55 161.47,163.44 162.37,162.32 163.26,161.20 164.16,160.07 165.05,158.94 165.95,157.80 166.84,156.66 167.74,155.51 168.63,154.36 169.53,153.20 170.43,152.04 171.32,150.88 172.22,149.71 173.11,148.54 174.01,147.36 174.90,146.18 175.80,144.99 176.69,143.80 177.59,142.60 178.49,141.40 179.38,140.20 180.28,138.99 181.17,137.78 182.07,136.56 182.96,135.34 183.86,134.11 184.75,132.88 185.65,131.65 186.54,130.41 187.44,129.17 188.34,127.92 189.23,126.67 190.13,125.42 191.02,124.16 191.92,122.90 192.81,121.63 193.71,120.36 194.60,119.09 195.50,117.81 196.39,116.53 197.29,115.24 198.19,113.95 199.08,112.66 199.98,111.36 200.87,110.06 201.77,108.76 202.66,107.45 203.56,106.14 204.45,104.82 205.35,103.50 206.25,102.18 207.14,100.85 208.04,99.52 208.93,98.19 209.83,96.85 210.72,95.51 211.62,94.16 212.51,92.82 213.41,91.46 214.30,90.11 215.20,88.75 216.10,87.39 216.99,86.03 217.89,84.66 218.78,83.29 219.68,81.91 220.57,80.54 221.47,79.16 222.36,77.77 223.26,76.38 224.15,74.99 225.05,73.60 225.95,72.21 226.84,70.81 227.74,69.40 228.63,68.00 229.53,66.59 230.42,65.18 231.32,63.77 232.21,62.35 233.11,60.93 234.00,59.51 234.90,58.08 235.80,56.66 236.69,55.22 237.59,53.79 238.48,52.36 239.38,50.92 240.27,49.48 241.17,48.03 242.06,46.59 242.96,45.14 243.86,43.69 244.75,42.23 245.65,40.78 246.54,39.32 247.44,37.86 248.33,36.40 249.23,34.93 250.12,33.46 251.02,31.99 251.91,30.52 252.81,29.05 253.71,27.57 254.60,26.09 255.50,24.61 256.39,23.13 257.29,21.64 258.18,20.16 259.08,18.67 259.97,17.18 260.87,15.69 261.76,14.19 262.66,12.70 263.56,11.20 264.45,9.70 265.35,8.20 266.24,6.69 267.14,5.19 268.03,3.68 268.93,2.17 269.82,0.66 270.72,-0.85 271.61,-2.36 272.51,-3.87 273.41,-5.39 274.30,-6.91 275.20,-8.43 276.09,-9.95 276.99,-11.47 277.88,-12.99 278.78,-14.51 279.67,-16.04 280.57,-17.57 281.47,-19.09 282.36,-20.62 283.26,-22.15 284.15,-23.68 285.05,-25.22 285.94,-26.75 286.84,-28.28 287.73,-29.82 288.63,-31.35 289.52,-32.89 290.42,-34.43 291.32,-35.97 292.21,-37.51 293.11,-39.05 294.00,-40.59 294.90,-42.13 295.79,-43.67 296.69,-45.21 297.58,-46.76 298.48,-48.30 299.37,-49.84 300.27,-51.39 301.17,-52.93 302.06,-54.48 302.96,-56.03 303.85,-57.57 304.75,-59.12 305.64,-60.67 306.54,-62.21 307.43,-63.76 308.33,-65.31 309.22,-66.86 310.12,-68.40 311.02,-69.95 311.91,-71.50 312.81,-73.05 313.70,-74.60 314.60,-76.14 315.49,-77.69 316.39,-79.24 317.28,-80.79 318.18,-82.34 319.08,-83.88 319.97,-85.43 320.87,-86.98 321.76,-88.52 322.66,-90.07 323.55,-91.61 324.45,-93.16 325.34,-94.70 326.24,-96.25 327.13,-97.79 328.03,-99.33 328.93,-100.88 329.82,-102.42 330.72,-103.96 331.61,-105.50 332.51,-107.04 333.40,-108.58 334.30,-110.12 335.19,-111.65 336.09,-113.19 336.98,-114.72 337.88,-116.26 338.78,-117.79 339.67,-119.32 340.57,-120.85 341.46,-122.38 342.36,-123.91 343.25,-125.44 344.15,-126.97 345.04,-128.49 345.94,-130.02 346.83,-131.54 347.73,-133.06 348.63,-134.58 349.52,-136.10 350.42,-137.61 351.31,-139.13 352.21,-140.64 353.10,-142.15 354.00,-143.67 354.89,-145.17 355.79,-146.68 356.69,-148.19 357.58,-149.69 358.48,-151.19 359.37,-152.69 360.27,-154.19 361.16,-155.69 362.06,-157.18 362.95,-158.67 363.85,-160.16 364.74,-161.65 365.64,-163.14 366.54,-164.62 367.43,-166.10 368.33,-167.58 369.22,-169.06 370.12,-170.53 371.01,-172.01 371.91,-173.48 372.80,-174.94 373.70,-176.41 374.59,-177.87 375.49,-179.33 376.39,-180.79 377.28,-182.24 378.18,-183.70 379.07,-185.15 379.97,-186.59 380.86,-188.04 381.76,-189.48 382.65,-190.92 383.55,-192.35 384.44,-193.79 385.34,-195.22 386.24,-196.64 387.13,-198.07 388.03,-199.49 388.92,-200.91 389.82,-202.32 390.71,-203.73 391.61,-205.14 392.50,-206.55 393.40,-207.95 394.30,-209.35 395.19,-210.74 396.09,-212.13 396.98,-213.52 397.88,-214.91 398.77,-216.29 399.67,-217.66 400.56,-219.04 401.46,-220.41 402.35,-221.78 403.25,-223.14 404.15,-224.50 405.04,-225.85 405.94,-227.21 406.83,-228.55 407.73,-229.90 408.62,-231.24 409.52,-232.57 410.41,-233.91 411.31,-235.23 412.20,-236.56 413.10,-237.88" stroke="#000000"/>
<polyline points="37.00,269.55 37.90,269.31 38.79,269.04 39.69,268.74 40.58,268.43 41.48,268.11 42.37,267.78 43.27,267.45 44.16,267.11 45.06,266.76 45.95,266.40 46.85,266.04 47.75,265.68 48.64,265.31 49.54,264.94 50.43,264.56 51.33,264.18 52.22,263.80 53.12,263.41 54.01,263.02 54.91,262.63 55.80,262.24 56.70,261.84 57.60,261.44 58.49,261.03 59.39,260.63 60.28,260.22 61.18,259.81 62.07,259.39 62.97,258.97 63.86,258.55 64.76,258.13 65.66,257.71 66.55,257.28 67.45,256.85 68.34,256.42 69.24,255.98 70.13,255.54 71.03,255.10 71.92,254.66 72.82,254.21 73.71,253.76 74.61,253.31 75.51,252.86 76.40,252.40 77.30,251.94 78.19,251.48 79.09,251.02 79.98,250.55 80.88,250.08 81.77,249.61 82.67,249.14 83.56,248.66 84.46,248.18 85.36,247.70 86.25,247.21 87.15,246.72 88.04,246.23 88.94,245.74 89.83,245.24 90.73,244.74 91.62,244.24 92.52,243.73 93.42,243.23 94.31,242.71 95.21,242.20 96.10,241.68 97.00,241.16 97.89,240.64 98.79,240.12 99.68,239.59 100.58,239.06 101.47,238.52 102.37,237.98 103.27,237.44 104.16,236.90 105.06,236.35 105.95,235.81 106.85,235.25 107.74,234.70 108.64,234.14 109.53,233.58 110.43,233.01 111.32,232.45 112.22,231.87 113.12,231.30 114.01,230.72 114.91,230.14 115.80,229.56 116.70,228.97 117.59,228.38 118.49,227.79 119.38,227.19 120.28,226.60 121.17,225.99 122.07,225.39 122.97,224.78 123.86,224.17 124.76,223.55 125.65,222.93 126.55,222.31 127.44,221.69 128.34,221.06 129.23,220.43 130.13,219.79 131.03,219.16 131.92,218.52 132.82,217.87 133.71,217.22 134.61,216.57 135.50,215.92 136.40,215.26 137.29,214.60 138.19,213.94 139.08,213.27 139.98,212.60 140.88,211.93 141.77,211.25 142.67,210.57 143.56,209.89 144.46,209.20 145.35,208.51 146.25,207.82 147.14,207.12 148.04,206.42 148.93,205.72 149.83,205.01 150.73,204.30 151.62,203.59 152.52,202.87 153.41,202.15 154.31,201.43 155.20,200.70 156.10,199.97 156.99,199.24 157.89,198.50 158.78,197.76 159.68,197.02 160.58,196.28 161.47,195.53 162.37,194.78 163.26,194.02 164.16,193.26 165.05,192.50 165.95,191.73 166.84,190.97 167.74,190.19 168.63,189.42 169.53,188.64 170.43,187.86 171.32,187.07 172.22,186.29 173.11,185.50 174.01,184.70 174.90,183.90 175.80,183.10 176.69,182.30 177.59,181.49 178.49,180.68 179.38,179.87 180.28,179.05 181.17,178.23 182.07,177.41 182.96,176.59 183.86,175.76 184.75,174.93 185.65,174.09 186.54,173.25 187.44,172.41 188.34,171.57 189.23,170.72 190.13,169.87 191.02,169.02 191.92,168.16 192.81,167.30 193.71,166.44 194.60,165.57 195.50,164.70 196.39,163.83 197.29,162.96 198.19,162.08 199.08,161.20 199.98,160.32 200.87,159.43 201.77,158.54 202.66,157.65 203.56,156.76 204.45,155.86 205.35,154.96 206.25,154.05 207.14,153.15 208.04,152.24 208.93,151.33 209.83,150.41 210.72,149.49 211.62,148.57 212.51,147.65 213.41,146.72 214.30,145.80 215.20,144.86 216.10,143.93 216.99,142.99 217.89,142.05 218.78,141.11 219.68,140.17 220.57,139.22 221.47,138.27 222.36,137.32 223.26,136.36 224.15,135.40 225.05,134.44 225.95,133.48 226.84,132.52 227.74,131.55 228.63,130.58 229.53,129.61 230.42,128.63 231.32,127.65 232.21,126.67 233.11,125.69 234.00,124.70 234.90,123.72 235.80,122.73 236.69,121.74 237.59,120.74 238.48,119.74 239.38,118.74 240.27,117.74 241.17,116.74 242.06,115.73 242.96,114.73 243.86,113.72 244.75,112.70 245.65,111.69 246.54,110.67 247.44,109.65 248.33,108.63 249.23,107.61 250.12,106.58 251.02,105.56 251.91,104.53 252.81,103.50 253.71,102.46 254.60,101.43 255.50,100.39 256.39,99.35 257.29,98.31 258.18,97.27 259.08,96.22 259.97,95.17 260.87,94.13 261.76,93.08 262.66,92.02 263.56,90.97 264.45,89.91 265.35,88.86 266.24,87.80 267.14,86.74 268.03,85.67 268.93,84.61 269.82,83.54 270.72,82.48 271.61,81.41 272.51,80.34 273.41,79.26 274.30,78.19 275.20,77.11 276.09,76.04 276.99,74.96 277.88,73.88 278.78,72.80 279.67,71.72 280.57,70.63 281.47,69.55 282.36,68.46 283.26,67.37 284.15,66.29 285.05,65.20 285.94,64.10 286.84,63.01 287.73,61.92 288.63,60.82 289.52,59.73 290.42,58.63 291.32,57.53 292.21,56.43 293.11,55.33 294.00,54.23 294.90,53.13 295.79,52.02 296.69,50.92 297.58,49.82 298.48,48.71 299.37,47.60 300.27,46.49 301.17,45.39 302.06,44.28 302.96,43.17 303.85,42.06 304.75,40.94 305.64,39.83 306.54,38.72 307.43,37.61 308.33,36.49 309.22,35.38 310.12,34.26 311.02,33.15 311.91,32.03 312.81,30.91 313.70,29.80 314.60,28.68 315.49,27.56 316.39,26.44 317.28,25.32 318.18,24.20 319.08,23.08 319.97,21.96 320.87,20.85 321.76,19.73 322.66,18.60 323.55,17.48 324.45,16.36 325.34,15.24 326.24,14.12 327.13,13.00 328.03,11.88 328.93,10.76 329.82,9.64 330.72,8.52 331.61,7.40 332.51,6.28 333.40,5.16 334.30,4.04 335.19,2.92 336.09,1.80 336.98,0.68 337.88,-0.44 338.78,-1.56 339.67,-2.68 340.57,-3.80 341.46,-4.91 342.36,-6.03 343.25,-7.15 344.15,-8.27 345.04,-9.38 345.94,-10.50 346.83,-11.61 347.73,-12.73 348.63,-13.84 349.52,-14.95 350.42,-16.06 351.31,-17.18 352.21,-18.29 353.10,-19.40 354.00,-20.50 354.89,-21.61 355.79,-22.72 356.69,-23.83 357.58,-24.93 358.48,-26.04 359.37,-27.14 360.27,-28.24 361.16,-29.34 362.06,-30.44 362.95,-31.54 363.85,-32.64 364.74,-33.74 365.64,-34.83 366.54,-35.93 367.43,-37.02 368.33,-38.11 369.22,-39.20 370.12,-40.29 371.01,-41.38 371.91,-42.47 372.80,-43.55 373.70,-44.64 374.59,-45.72 375.49,-46.80 376.39,-47.88 377.28,-48.95 378.18,-50.03 379.07,-51.10 379.97,-52.18 380.86,-53.25 381.76,-54.31 382.65,-55.38 383.55,-56.45 384.44,-57.51 385.34,-58.57 386.24,-59.63 387.13,-60.69 388.03,-61.74 388.92,-62.79 389.82,-63.85 390.71,-64.90 391.61,-65.94 392.50,-66.99 393.40,-68.03 394.30,-69.07 395.19,-70.11 396.09,-71.14 396.98,-72.18 397.88,-73.21 398.77,-74.24 399.67,-75.26 400.56,-76.29 401.46,-77.31 402.35,-78.33 403.25,-79.34 404.15,-80.36 405.04,-81.37 405.94,-82.38 406.83,-83.38 407.73,-84.38 408.62,-85.38 409.52,-86.38 410.41,-87.38 411.31,-88.37 412.20,-89.36 413.10,-90.34" stroke="#670748"/>
<polyline points="37.00,269.55 37.90,269.44 38.79,269.28 39.69,269.08 40.58,268.87 41.48,268.64 42.37,268.39 43.27,268.14 44.16,267.87 45.06,267.59 45.95,267.31 46.85,267.02 47.75,266.73 48.64,266.43 49.54,266.12 50.43,265.81 51.33,265.49 52.22,265.17 53.12,264.85 54.01,264.52 54.91,264.19 55.80,263.86 56.70,263.52 57.60,263.19 58.49,262.84 59.39,262.50 60.28,262.15 61.18,261.80 62.07,261.45 62.97,261.10 63.86,260.75 64.76,260.39 65.66,260.03 66.55,259.67 67.45,259.31 68.34,258.94 69.24,258.58 70.13,258.21 71.03,257.84 71.92,257.47 72.82,257.09 73.71,256.72 74.61,256.34 75.51,255.97 76.40,255.59 77.30,255.21 78.19,254.82 79.09,254.44 79.98,254.06 80.88,253.67 81.77,253.28 82.67,252.89 83.56,252.50 84.46,252.11 85.36,251.71 86.25,251.32 87.15,250.92 88.04,250.52 88.94,250.12 89.83,249.72 90.73,249.32 91.62,248.92 92.52,248.51 93.42,248.10 94.31,247.70 95.21,247.29 96.10,246.87 97.00,246.46 97.89,246.05 98.79,245.63 99.68,245.21 100.58,244.79 101.47,244.37 102.37,243.95 103.27,243.53 104.16,243.10 105.06,242.68 105.95,242.25 106.85,241.82 107.74,241.39 108.64,240.95 109.53,240.52 110.43,240.08 111.32,239.64 112.22,239.20 113.12,238.76 114.01,238.32 114.91,237.87 115.80,237.43 116.70,236.98 117.59,236.53 118.49,236.08 119.38,235.63 120.28,235.17 121.17,234.71 122.07,234.26 122.97,233.80 123.86,233.33 124.76,232.87 125.65,232.41 126.55,231.94 127.44,231.47 128.34,231.00 129.23,230.53 130.13,230.05 131.03,229.58 131.92,229.10 132.82,228.62 133.71,228.14 134.61,227.65 135.50,227.17 136.40,226.68 137.29,226.19 138.19,225.70 139.08,225.21 139.98,224.71 140.88,224.22 141.77,223.72 142.67,223.22 143.56,222.71 144.46,222.21 145.35,221.70 146.25,221.19 147.14,220.68 148.04,220.17 148.93,219.66 149.83,219.14 150.73,218.62 151.62,218.10 152.52,217.58 153.41,217.06 154.31,216.53 155.20,216.00 156.10,215.47 156.99,214.94 157.89,214.40 158.78,213.87 159.68,213.33 160.58,212.79 161.47,212.25 162.37,211.70 163.26,211.16 164.16,210.61 165.05,210.06 165.95,209.50 166.84,208.95 167.74,208.39 168.63,207.83 169.53,207.27 170.43,206.71 171.32,206.14 172.22,205.58 173.11,205.01 174.01,204.44 174.90,203.86 175.80,203.29 176.69,202.71 177.59,202.13 178.49,201.55 179.38,200.96 180.28,200.38 181.17,199.79 182.07,199.20 182.96,198.61 183.86,198.01 184.75,197.41 185.65,196.82 186.54,196.21 187.44,195.61 188.34,195.01 189.23,194.40 190.13,193.79 191.02,193.18 191.92,192.56 192.81,191.95 193.71,191.33 194.60,190.71 195.50,190.09 196.39,189.46 197.29,188.84 198.19,188.21 199.08,187.58 199.98,186.95 200.87,186.31 201.77,185.67 202.66,185.03 203.56,184.39 204.45,183.75 205.35,183.10 206.25,182.46 207.14,181.81 208.04,181.15 208.93,180.50 209.83,179.84 210.72,179.19 211.62,178.53 212.51,177.86 213.41,177.20 214.30,176.53 215.20,175.86 216.10,175.19 216.99,174.52 217.89,173.85 218.78,173.17 219.68,172.49 220.57,171.81 221.47,171.13 222.36,170.44 223.26,169.75 224.15,169.06 225.05,168.37 225.95,167.68 226.84,166.98 227.74,166.29 228.63,165.59 229.53,164.89 230.42,164.18 231.32,163.48 232.21,162.77 233.11,162.06 234.00,161.35 234.90,160.63 235.80,159.92 236.69,159.20 237.59,158.48 238.48,157.76 239.38,157.04 240.27,156.31 241.17,155.58 242.06,154.85 242.96,154.12 243.86,153.39 244.75,152.66 245.65,151.92 246.54,151.18 247.44,150.44 248.33,149.70 249.23,148.95 250.12,148.20 251.02,147.46 251.91,146.71 252.81,145.95 253.71,145.20 254.60,144.44 255.50,143.68 256.39,142.93 257.29,142.16 258.18,141.40 259.08,140.64 259.97,139.87 260.87,139.10 261.76,138.33 262.66,137.56 263.56,136.78 264.45,136.01 265.35,135.23 266.24,134.45 267.14,133.67 268.03,132.89 268.93,132.10 269.82,131.31 270.72,130.53 271.61,129.74 272.51,128.94 273.41,128.15 274.30,127.36 275.20,126.56 276.09,125.76 276.99,124.96 277.88,124.16 278.78,123.36 279.67,122.55 280.57,121.75 281.47,120.94 282.36,120.13 283.26,119.32 284.15,118.51 285.05,117.69 285.94,116.88 286.84,116.06 287.73,115.24 288.63,114.42 289.52,113.60 290.42,112.77 291.32,111.95 292.21,111.12 293.11,110.30 294.00,109.47 294.90,108.64 295.79,107.80 296.69,106.97 297.58,106.14 298.48,105.30 299.37,104.46 300.27,103.62 301.17,102.78 302.06,101.94 302.96,101.10 303.85,100.25 304.75,99.41 305.64,98.56 306.54,97.71 307.43,96.86 308.33,96.01 309.22,95.16 310.12,94.31 311.02,93.45 311.91,92.60 312.81,91.74 313.70,90.88 314.60,90.02 315.49,89.16 316.39,88.30 317.28,87.44 318.18,86.58 319.08,85.71 319.97,84.85 320.87,83.98 321.76,83.11 322.66,82.24 323.55,81.37 324.45,80.50 325.34,79.63 326.24,78.76 327.13,77.88 328.03,77.01 328.93,76.13 329.82,75.25 330.72,74.38 331.61,73.50 332.51,72.62 333.40,71.74 334.30,70.86 335.19,69.97 336.09,69.09 336.98,68.21 337.88,67.32 338.78,66.44 339.67,65.55 340.57,64.66 341.46,63.77 342.36,62.89 343.25,62.00 344.15,61.11 345.04,60.22 345.94,59.32 346.83,58.43 347.73,57.54 348.63,56.65 349.52,55.75 350.42,54.86 351.31,53.96 352.21,53.07 353.10,52.17 354.00,51.28 354.89,50.38 355.79,49.48 356.69,48.58 357.58,47.68 358.48,46.78 359.37,45.88 360.27,44.98 361.16,44.08 362.06,43.18 362.95,42.28 363.85,41.38 364.74,40.48 365.64,39.58 366.54,38.67 367.43,37.77 368.33,36.87 369.22,35.97 370.12,35.06 371.01,34.16 371.91,33.26 372.80,32.35 373.70,31.45 374.59,30.54 375.49,29.64 376.39,28.73 377.28,27.83 378.18,26.92 379.07,26.02 379.97,25.11 380.86,24.21 381.76,23.30 382.65,22.40 383.55,21.49 384.44,20.59 385.34,19.69 386.24,18.78 387.13,17.88 388.03,16.97 388.92,16.07 389.82,15.16 390.71,14.26 391.61,13.36 392.50,12.45 393.40,11.55 394.30,10.65 395.19,9.74 396.09,8.84 396.98,7.94 397.88,7.04 398.77,6.13 399.67,5.23 400.56,4.33 401.46,3.43 402.35,2.53 403.25,1.63 404.15,0.73 405.04,-0.17 405.94,-1.06 406.83,-1.96 407.73,-2.86 408.62,-3.76 409.52,-4.65 410.41,-5.55 411.31,-6.44 412.20,-7.34 413.10,-8.23" stroke="#9400d3"/>
<polyline points="37.00,269.55 37.90,269.34 38.79,269.13 39.69,268.92 40.58,268.71 41.48,268.50 42.37,268.28 43.27,268.06 44.16,267.84 45.06,267.62 45.95,267.40 46.85,267.17 47.75,266.95 48.64,266.72 49.54,266.49 50.43,266.25 51.33,266.02 52.22,265.78 53.12,265.54 54.01,265.30 54.91,265.06 55.80,264.81 56.70,264.57 57.60,264.32 58.49,264.07 59.39,263.81 60.28,263.56 61.18,263.30 62.07,263.04 62.97,262.78 63.86,262.52 64.76,262.26 65.66,261.99 66.55,261.72 67.45,261.45 68.34,261.18 69.24,260.91 70.13,260.63 71.03,260.36 71.92,260.08 72.82,259.80 73.71,259.51 74.61,259.23 75.51,258.94 76.40,258.65 77.30,258.36 78.19,258.07 79.09,257.78 79.98,257.48 80.88,257.18 81.77,256.89 82.67,256.58 83.56,256.28 84.46,255.98 85.36,255.67 86.25,255.36 87.15,255.05 88.04,254.74 88.94,254.43 89.83,254.11 90.73,253.79 91.62,253.48 92.52,253.16 93.42,252.83 94.31,252.51 95.21,252.18 96.10,251.86 97.00,251.53 97.89,251.20 98.79,250.86 99.68,250.53 100.58,250.19 101.47,249.86 102.37,249.52 103.27,249.18 104.16,248.83 105.06,248.49 105.95,248.14 106.85,247.80 107.74,247.45 108.64,247.09 109.53,246.74 110.43,246.39 111.32,246.03 112.22,245.67 113.12,245.32 114.01,244.95 114.91,244.59 115.80,244.23 116.70,243.86 117.59,243.49 118.49,243.13 119.38,242.75 120.28,242.38 121.17,242.01 122.07,241.63 122.97,241.26 123.86,240.88 124.76,240.50 125.65,240.12 126.55,239.73 127.44,239.35 128.34,238.96 129.23,238.57 130.13,238.18 131.03,237.79 131.92,237.40 132.82,237.00 133.71,236.61 134.61,236.21 135.50,235.81 136.40,235.41 137.29,235.01 138.19,234.61 139.08,234.20 139.98,233.79 140.88,233.39 141.77,232.98 142.67,232.56 143.56,232.15 144.46,231.74 145.35,231.32 146.25,230.90 147.14,230.49 148.04,230.07 148.93,229.64 149.83,229.22 150.73,228.80 151.62,228.37 152.52,227.94 153.41,227.51 154.31,227.08 155.20,226.65 156.10,226.22 156.99,225.78 157.89,225.34 158.78,224.91 159.68,224.47 160.58,224.03 161.47,223.58 162.37,223.14 163.26,222.69 164.16,222.25 165.05,221.80 165.95,221.35 166.84,220.90 167.74,220.45 168.63,219.99 169.53,219.54 170.43,219.08 171.32,218.62 172.22,218.16 173.11,217.70 174.01,217.24 174.90,216.77 175.80,216.31 176.69,215.84 177.59,215.37 178.49,214.90 179.38,214.43 180.28,213.96 181.17,213.49 182.07,213.01 182.96,212.54 183.86,212.06 184.75,211.58 185.65,211.10 186.54,210.62 187.44,210.13 188.34,209.65 189.23,209.16 190.13,208.67 191.02,208.19 191.92,207.70 192.81,207.20 193.71,206.71 194.60,206.22 195.50,205.72 196.39,205.22 197.29,204.73 198.19,204.23 199.08,203.72 199.98,203.22 200.87,202.72 201.77,202.21 202.66,201.71 203.56,201.20 204.45,200.69 205.35,200.18 206.25,199.67 207.14,199.15 208.04,198.64 208.93,198.12 209.83,197.61 210.72,197.09 211.62,196.57 212.51,196.05 213.41,195.53 214.30,195.00 215.20,194.48 216.10,193.95 216.99,193.42 217.89,192.89 218.78,192.36 219.68,191.83 220.57,191.30 221.47,190.77 222.36,190.23 223.26,189.69 224.15,189.16 225.05,188.62 225.95,188.08 226.84,187.54 227.74,186.99 228.63,186.45 229.53,185.90 230.42,185.36 231.32,184.81 232.21,184.26 233.11,183.71 234.00,183.16 234.90,182.60 235.80,182.05 236.69,181.49 237.59,180.94 238.48,180.38 239.38,179.82 240.27,179.26 241.17,178.70 242.06,178.13 242.96,177.57 243.86,177.00 244.75,176.44 245.65,175.87 246.54,175.30 247.44,174.73 248.33,174.16 249.23,173.58 250.12,173.01 251.02,172.43 251.91,171.86 252.81,171.28 253.71,170.70 254.60,170.12 255.50,169.54 256.39,168.95 257.29,168.37 258.18,167.78 259.08,167.20 259.97,166.61 260.87,166.02 261.76,165.43 262.66,164.84 263.56,164.25 264.45,163.65 265.35,163.06 266.24,162.46 267.14,161.87 268.03,161.27 268.93,160.67 269.82,160.07 270.72,159.46 271.61,158.86 272.51,158.26 273.41,157.65 274.30,157.04 275.20,156.44 276.09,155.83 276.99,155.22 277.88,154.60 278.78,153.99 279.67,153.38 280.57,152.76 281.47,152.15 282.36,151.53 283.26,150.91 284.15,150.29 285.05,149.67 285.94,149.05 286.84,148.42 287.73,147.80 288.63,147.17 289.52,146.55 290.42,145.92 291.32,145.29 292.21,144.66 293.11,144.03 294.00,143.39 294.90,142.76 295.79,142.13 296.69,141.49 297.58,140.85 298.48,140.21 299.37,139.57 300.27,138.93 301.17,138.29 302.06,137.65 302.96,137.01 303.85,136.36 304.75,135.71 305.64,135.07 306.54,134.42 307.43,133.77 308.33,133.12 309.22,132.46 310.12,131.81 311.02,131.16 311.91,130.50 312.81,129.85 313.70,129.19 314.60,128.53 315.49,127.87 316.39,127.21 317.28,126.55 318.18,125.88 319.08,125.22 319.97,124.55 320.87,123.89 321.76,123.22 322.66,122.55 323.55,121.88 324.45,121.21 325.34,120.54 326.24,119.86 327.13,119.19 328.03,118.51 328.93,117.84 329.82,117.16 330.72,116.48 331.61,115.80 332.51,115.12 333.40,114.44 334.30,113.75 335.19,113.07 336.09,112.38 336.98,111.70 337.88,111.01 338.78,110.32 339.67,109.63 340.57,108.94 341.46,108.25 342.36,107.55 343.25,106.86 344.15,106.16 345.04,105.47 345.94,104.77 346.83,104.07 347.73,103.37 348.63,102.67 349.52,101.97 350.42,101.27 351.31,100.56 352.21,99.86 353.10,99.15 354.00,98.45 354.89,97.74 355.79,97.03 356.69,96.32 357.58,95.61 358.48,94.89 359.37,94.18 360.27,93.46 361.16,92.75 362.06,92.03 362.95,91.31 363.85,90.60 364.74,89.88 365.64,89.15 366.54,88.43 367.43,87.71 368.33,86.99 369.22,86.26 370.12,85.53 371.01,84.81 371.91,84.08 372.80,83.35 373.70,82.62 374.59,81.89 375.49,81.15 376.39,80.42 377.28,79.68 378.18,78.95 379.07,78.21 379.97,77.47 380.86,76.73 381.76,75.99 382.65,75.25 383.55,74.51 384.44,73.77 385.34,73.02 386.24,72.28 387.13,71.53 388.03,70.79 388.92,70.04 389.82,69.29 390.71,68.54 391.61,67.79 392.50,67.03 393.40,66.28 394.30,65.52 395.19,64.77 396.09,64.01 396.98,63.25 397.88,62.50 398.77,61.74 399.67,60.98 400.56,60.21 401.46,59.45 402.35,58.69 403.25,57.92 404.15,57.16 405.04,56.39 405.94,55.62 406.83,54.85 407.73,54.08 408.62,53.31 409.52,52.54 410.41,51.77 411.31,50.99 412.20,50.22 413.10,49.44" stroke="#0000ff"/>
<polyline points="37.00,269.55 37.90,269.44 38.79,269.31 39.69,269.16 40.58,269.00 41.48,268.83 42.37,268.65 43.27,268.47 44.16,268.28 45.06,268.08 45.95,267.89 46.85,267.69 47.75,267.48 48.64,267.28 49.54,267.07 50.43,266.86 51.33,266.64 52.22,266.43 53.12,266.21 54.01,265.99 54.91,265.77 55.80,265.54 56.70,265.32 57.60,265.09 58.49,264.86 59.39,264.64 60.28,264.40 61.18,264.17 62.07,263.94 62.97,263.71 63.86,263.47 64.76,263.23 65.66,263.00 66.55,262.76 67.45,262.52 68.34,262.28 69.24,262.04 70.13,261.79 71.03,261.55 71.92,261.31 72.82,261.06 73.71,260.82 74.61,260.57 75.51,260.32 76.40,260.07 77.30,259.82 78.19,259.57 79.09,259.32 79.98,259.07 80.88,258.81 81.77,258.56 82.67,258.31 83.56,258.05 84.46,257.79 85.36,257.54 86.25,257.28 87.15,257.02 88.04,256.76 88.94,256.50 89.83,256.24 90.73,255.97 91.62,255.71 92.52,255.44 93.42,255.18 94.31,254.91 95.21,254.65 96.10,254.38 97.00,254.11 97.89,253.84 98.79,253.57 99.68,253.30 100.58,253.02 101.47,252.75 102.37,252.48 103.27,252.20 104.16,251.92 105.06,251.65 105.95,251.37 106.85,251.09 107.74,250.81 108.64,250.53 109.53,250.25 110.43,249.96 111.32,249.68 112.22,249.39 113.12,249.11 114.01,248.82 114.91,248.53 115.80,248.24 116.70,247.95 117.59,247.66 118.49,247.37 119.38,247.08 120.28,246.78 121.17,246.49 122.07,246.19 122.97,245.90 123.86,245.60 124.76,245.30 125.65,245.00 126.55,244.70 127.44,244.39 128.34,244.09 129.23,243.79 130.13,243.48 131.03,243.17 131.92,242.86 132.82,242.56 133.71,242.24 134.61,241.93 135.50,241.62 136.40,241.31 137.29,240.99 138.19,240.68 139.08,240.36 139.98,240.04 140.88,239.72 141.77,239.40 142.67,239.08 143.56,238.76 144.46,238.43 145.35,238.11 146.25,237.78 147.14,237.45 148.04,237.13 148.93,236.80 149.83,236.46 150.73,236.13 151.62,235.80 152.52,235.46 153.41,235.13 154.31,234.79 155.20,234.45 156.10,234.11 156.99,233.77 157.89,233.43 158.78,233.09 159.68,232.74 160.58,232.40 161.47,232.05 162.37,231.70 163.26,231.36 164.16,231.00 165.05,230.65 165.95,230.30 166.84,229.95 167.74,229.59 168.63,229.23 169.53,228.88 170.43,228.52 171.32,228.16 172.22,227.79 173.11,227.43 174.01,227.07 174.90,226.70 175.80,226.34 176.69,225.97 177.59,225.60 178.49,225.23 179.38,224.86 180.28,224.48 181.17,224.11 182.07,223.73 182.96,223.36 183.86,222.98 184.75,222.60 185.65,222.22 186.54,221.84 187.44,221.45 188.34,221.07 189.23,220.68 190.13,220.30 191.02,219.91 191.92,219.52 192.81,219.13 193.71,218.74 194.60,218.34 195.50,217.95 196.39,217.55 197.29,217.16 198.19,216.76 199.08,216.36 199.98,215.96 200.87,215.55 201.77,215.15 202.66,214.75 203.56,214.34 204.45,213.93 205.35,213.52 206.25,213.11 207.14,212.70 208.04,212.29 208.93,211.88 209.83,211.46 210.72,211.05 211.62,210.63 212.51,210.21 213.41,209.79 214.30,209.37 215.20,208.95 216.10,208.52 216.99,208.10 217.89,207.67 218.78,207.24 219.68,206.82 220.57,206.39 221.47,205.95 222.36,205.52 223.26,205.09 224.15,204.65 225.05,204.22 225.95,203.78 226.84,203.34 227.74,202.90 228.63,202.46 229.53,202.02 230.42,201.57 231.32,201.13 232.21,200.68 233.11,200.24 234.00,199.79 234.90,199.34 235.80,198.89 236.69,198.43 237.59,197.98 238.48,197.53 239.38,197.07 240.27,196.61 241.17,196.16 242.06,195.70 242.96,195.24 243.86,194.77 244.75,194.31 245.65,193.85 246.54,193.38 247.44,192.92 248.33,192.45 249.23,191.98 250.12,191.51 251.02,191.04 251.91,190.57 252.81,190.09 253.71,189.62 254.60,189.14 255.50,188.67 256.39,188.19 257.29,187.71 258.18,187.23 259.08,186.75 259.97,186.27 260.87,185.78 261.76,185.30 262.66,184.81 263.56,184.33 264.45,183.84 265.35,183.35 266.24,182.86 267.14,182.37 268.03,181.88 268.93,181.38 269.82,180.89 270.72,180.39 271.61,179.90 272.51,179.40 273.41,178.90 274.30,178.40 275.20,177.90 276.09,177.40 276.99,176.90 277.88,176.39 278.78,175.89 279.67,175.38 280.57,174.88 281.47,174.37 282.36,173.86 283.26,173.35 284.15,172.84 285.05,172.33 285.94,171.81 286.84,171.30 287.73,170.79 288.63,170.27 289.52,169.75 290.42,169.24 291.32,168.72 292.21,168.20 293.11,167.68 294.00,167.16 294.90,166.64 295.79,166.11 296.69,165.59 297.58,165.07 298.48,164.54 299.37,164.01 300.27,163.49 301.17,162.96 302.06,162.43 302.96,161.90 303.85,161.37 304.75,160.84 305.64,160.30 306.54,159.77 307.43,159.24 308.33,158.70 309.22,158.17 310.12,157.63 311.02,157.09 311.91,156.55 312.81,156.01 313.70,155.47 314.60,154.93 315.49,154.39 316.39,153.85 317.28,153.31 318.18,152.76 319.08,152.22 319.97,151.68 320.87,151.13 321.76,150.58 322.66,150.04 323.55,149.49 324.45,148.94 325.34,148.39 326.24,147.84 327.13,147.29 328.03,146.74 328.93,146.19 329.82,145.63 330.72,145.08 331.61,144.53 332.51,143.97 333.40,143.42 334.30,142.86 335.19,142.31 336.09,141.75 336.98,141.19 337.88,140.63 338.78,140.08 339.67,139.52 340.57,138.96 341.46,138.40 342.36,137.84 343.25,137.28 344.15,136.71 345.04,136.15 345.94,135.59 346.83,135.03 347.73,134.46 348.63,133.90 349.52,133.33 350.42,132.77 351.31,132.20 352.21,131.64 353.10,131.07 354.00,130.50 354.89,129.93 355.79,129.37 356.69,128.80 357.58,128.23 358.48,127.66 359.37,127.09 360.27,126.52 361.16,125.95 362.06,125.38 362.95,124.81 363.85,124.24 364.74,123.67 365.64,123.10 366.54,122.52 367.43,121.95 368.33,121.38 369.22,120.81 370.12,120.23 371.01,119.66 371.91,119.09 372.80,118.51 373.70,117.94 374.59,117.36 375.49,116.79 376.39,116.21 377.28,115.64 378.18,115.06 379.07,114.49 379.97,113.91 380.86,113.34 381.76,112.76 382.65,112.19 383.55,111.61 384.44,111.03 385.34,110.46 386.24,109.88 387.13,109.31 388.03,108.73 388.92,108.15 389.82,107.58 390.71,107.00 391.61,106.42 392.50,105.85 393.40,105.27 394.30,104.69 395.19,104.11 396.09,103.54 396.98,102.96 397.88,102.38 398.77,101.81 399.67,101.23 400.56,100.65 401.46,100.08 402.35,99.50 403.25,98.93 404.15,98.35 405.04,97.77 405.94,97.20 406.83,96.62 407.73,96.05 408.62,95.47 409.52,94.89 410.41,94.32 411.31,93.74 412.20,93.17 413.10,92.59" stroke="#008b00"/>
<polyline points="37.00,269.55 37.90,269.42 38.79,269.27 39.69,269.13 40.58,268.98 41.48,268.83 42.37,268.67 43.27,268.51 44.16,268.35 45.06,268.19 45.95,268.03 46.85,267.86 47.75,267.69 48.64,267.52 49.54,267.34 50.43,267.17 51.33,266.99 52.22,266.81 53.12,266.63 54.01,266.45 54.91,266.26 55.80,266.08 56.70,265.89 57.60,265.70 58.49,265.51 59.39,265.32 60.28,265.13 61.18,264.93 62.07,264.73 62.97,264.54 63.86,264.34 64.76,264.14 65.66,263.93 66.55,263.73 67.45,263.53 68.34,263.32 69.24,263.11 70.13,262.90 71.03,262.69 71.92,262.48 72.82,262.27 73.71,262.06 74.61,261.84 75.51,261.63 76.40,261.41 77.30,261.19 78.19,260.97 79.09,260.75 79.98,260.53 80.88,260.31 81.77,260.08 82.67,259.86 83.56,259.63 84.46,259.40 85.36,259.18 86.25,258.95 87.15,258.72 88.04,258.49 88.94,258.25 89.83,258.02 90.73,257.78 91.62,257.55 92.52,257.31 93.42,257.08 94.31,256.84 95.21,256.60 96.10,256.36 97.00,256.12 97.89,255.87 98.79,255.63 99.68,255.39 100.58,255.14 101.47,254.89 102.37,254.65 103.27,254.40 104.16,254.15 105.06,253.90 105.95,253.65 106.85,253.40 107.74,253.15 108.64,252.89 109.53,252.64 110.43,252.38 111.32,252.13 112.22,251.87 113.12,251.61 114.01,251.35 114.91,251.09 115.80,250.83 116.70,250.57 117.59,250.31 118.49,250.04 119.38,249.78 120.28,249.52 121.17,249.25 122.07,248.98 122.97,248.72 123.86,248.45 124.76,248.18 125.65,247.91 126.55,247.64 127.44,247.37 128.34,247.09 129.23,246.82 130.13,246.55 131.03,246.27 131.92,246.00 132.82,245.72 133.71,245.44 134.61,245.16 135.50,244.88 136.40,244.60 137.29,244.32 138.19,244.04 139.08,243.76 139.98,243.48 140.88,243.19 141.77,242.91 142.67,242.62 143.56,242.34 144.46,242.05 145.35,241.76 146.25,241.47 147.14,241.18 148.04,240.89 148.93,240.60 149.83,240.31 150.73,240.02 151.62,239.73 152.52,239.43 153.41,239.14 154.31,238.84 155.20,238.55 156.10,238.25 156.99,237.95 157.89,237.65 158.78,237.35 159.68,237.05 160.58,236.75 161.47,236.45 162.37,236.15 163.26,235.84 164.16,235.54 165.05,235.24 165.95,234.93 166.84,234.62 167.74,234.32 168.63,234.01 169.53,233.70 170.43,233.39 171.32,233.08 172.22,232.77 173.11,232.46 174.01,232.15 174.90,231.83 175.80,231.52 176.69,231.21 177.59,230.89 178.49,230.57 179.38,230.26 180.28,229.94 181.17,229.62 182.07,229.30 182.96,228.98 183.86,228.66 184.75,228.34 185.65,228.02 186.54,227.69 187.44,227.37 188.34,227.05 189.23,226.72 190.13,226.40 191.02,226.07 191.92,225.74 192.81,225.41 193.71,225.08 194.60,224.75 195.50,224.42 196.39,224.09 197.29,223.76 198.19,223.43 199.08,223.09 199.98,222.76 200.87,222.43 201.77,222.09 202.66,221.75 203.56,221.42 204.45,221.08 205.35,220.74 206.25,220.40 207.14,220.06 208.04,219.72 208.93,219.38 209.83,219.03 210.72,218.69 211.62,218.35 212.51,218.00 213.41,217.66 214.30,217.31 215.20,216.96 216.10,216.61 216.99,216.27 217.89,215.92 218.78,215.57 219.68,215.22 220.57,214.86 221.47,214.51 222.36,214.16 223.26,213.80 224.15,213.45 225.05,213.09 225.95,212.74 226.84,212.38 227.74,212.02 228.63,211.66 229.53,211.30 230.42,210.94 231.32,210.58 232.21,210.22 233.11,209.86 234.00,209.50 234.90,209.13 235.80,208.77 236.69,208.40 237.59,208.03 238.48,207.67 239.38,207.30 240.27,206.93 241.17,206.56 242.06,206.19 242.96,205.82 243.86,205.45 244.75,205.07 245.65,204.70 246.54,204.33 247.44,203.95 248.33,203.58 249.23,203.20 250.12,202.82 251.02,202.44 251.91,202.06 252.81,201.68 253.71,201.30 254.60,200.92 255.50,200.54 256.39,200.16 257.29,199.77 258.18,199.39 259.08,199.00 259.97,198.61 260.87,198.23 261.76,197.84 262.66,197.45 263.56,197.06 264.45,196.67 265.35,196.28 266.24,195.89 267.14,195.49 268.03,195.10 268.93,194.71 269.82,194.31 270.72,193.91 271.61,193.52 272.51,193.12 273.41,192.72 274.30,192.32 275.20,191.92 276.09,191.52 276.99,191.12 277.88,190.71 278.78,190.31 279.67,189.90 280.57,189.50 281.47,189.09 282.36,188.69 283.26,188.28 284.15,187.87 285.05,187.46 285.94,187.05 286.84,186.64 287.73,186.22 288.63,185.81 289.52,185.40 290.42,184.98 291.32,184.57 292.21,184.15 293.11,183.73 294.00,183.31 294.90,182.89 295.79,182.47 296.69,182.05 297.58,181.63 298.48,181.21 299.37,180.78 300.27,180.36 301.17,179.93 302.06,179.51 302.96,179.08 303.85,178.65 304.75,178.22 305.64,177.79 306.54,177.36 307.43,176.93 308.33,176.50 309.22,176.06 310.12,175.63 311.02,175.19 311.91,174.76 312.81,174.32 313.70,173.88 314.60,173.44 315.49,173.00 316.39,172.56 317.28,172.12 318.18,171.68 319.08,171.24 319.97,170.79 320.87,170.35 321.76,169.90 322.66,169.45 323.55,169.00 324.45,168.55 325.34,168.10 326.24,167.65 327.13,167.20 328.03,166.75 328.93,166.30 329.82,165.84 330.72,165.38 331.61,164.93 332.51,164.47 333.40,164.01 334.30,163.55 335.19,163.09 336.09,162.63 336.98,162.17 337.88,161.70 338.78,161.24 339.67,160.77 340.57,160.31 341.46,159.84 342.36,159.37 343.25,158.90 344.15,158.43 345.04,157.96 345.94,157.49 346.83,157.02 347.73,156.54 348.63,156.07 349.52,155.59 350.42,155.11 351.31,154.64 352.21,154.16 353.10,153.68 354.00,153.20 354.89,152.71 355.79,152.23 356.69,151.75 357.58,151.26 358.48,150.77 359.37,150.29 360.27,149.80 361.16,149.31 362.06,148.82 362.95,148.33 363.85,147.84 364.74,147.34 365.64,146.85 366.54,146.35 367.43,145.86 368.33,145.36 369.22,144.86 370.12,144.36 371.01,143.86 371.91,143.36 372.80,142.86 373.70,142.35 374.59,141.85 375.49,141.34 376.39,140.83 377.28,140.33 378.18,139.82 379.07,139.31 379.97,138.80 380.86,138.28 381.76,137.77 382.65,137.26 383.55,136.74 384.44,136.22 385.34,135.71 386.24,135.19 387.13,134.67 388.03,134.15 388.92,133.62 389.82,133.10 390.71,132.58 391.61,132.05 392.50,131.53 393.40,131.00 394.30,130.47 395.19,129.94 396.09,129.41 396.98,128.88 397.88,128.34 398.77,127.81 399.67,127.27 400.56,126.74 401.46,126.20 402.35,125.66 403.25,125.12 404.15,124.58 405.04,124.04 405.94,123.49 406.83,122.95 407.73,122.40 408.62,121.86 409.52,121.31 410.41,120.76 411.31,120.21 412.20,119.66 413.10,119.11" stroke="#40e0d0"/>
<polyline points="37.00,269.55 37.90,269.50 38.79,269.42 39.69,269.33 40.58,269.23 41.48,269.12 42.37,269.00 43.27,268.87 44.16,268.74 45.06,268.60 45.95,268.46 46.85,268.32 47.75,268.17 48.64,268.02 49.54,267.86 50.43,267.70 51.33,267.54 52.22,267.38 53.12,267.21 54.01,267.04 54.91,266.87 55.80,266.70 56.70,266.52 57.60,266.35 58.49,266.17 59.39,265.99 60.28,265.81 61.18,265.62 62.07,265.44 62.97,265.25 63.86,265.06 64.76,264.87 65.66,264.68 66.55,264.49 67.45,264.30 68.34,264.11 69.24,263.91 70.13,263.72 71.03,263.52 71.92,263.32 72.82,263.12 73.71,262.92 74.61,262.72 75.51,262.52 76.40,262.32 77.30,262.11 78.19,261.91 79.09,261.70 79.98,261.50 80.88,261.29 81.77,261.08 82.67,260.88 83.56,260.67 84.46,260.46 85.36,260.25 86.25,260.04 87.15,259.82 88.04,259.61 88.94,259.40 89.83,259.18 90.73,258.97 91.62,258.75 92.52,258.54 93.42,258.32 94.31,258.11 95.21,257.89 96.10,257.67 97.00,257.45 97.89,257.23 98.79,257.01 99.68,256.79 100.58,256.57 101.47,256.35 102.37,256.13 103.27,255.91 104.16,255.68 105.06,255.46 105.95,255.23 106.85,255.01 107.74,254.78 108.64,254.56 109.53,254.33 110.43,254.10 111.32,253.88 112.22,253.65 113.12,253.42 114.01,253.19 114.91,252.96 115.80,252.73 116.70,252.50 117.59,252.27 118.49,252.04 119.38,251.81 120.28,251.57 121.17,251.34 122.07,251.11 122.97,250.87 123.86,250.64 124.76,250.40 125.65,250.17 126.55,249.93 127.44,249.69 128.34,249.45 129.23,249.22 130.13,248.98 131.03,248.74 131.92,248.50 132.82,248.26 133.71,248.02 134.61,247.78 135.50,247.54 136.40,247.29 137.29,247.05 138.19,246.81 139.08,246.57 139.98,246.32 140.88,246.08 141.77,245.83 142.67,245.59 143.56,245.34 144.46,245.09 145.35,244.84 146.25,244.60 147.14,244.35 148.04,244.10 148.93,243.85 149.83,243.60 150.73,243.35 151.62,243.10 152.52,242.85 153.41,242.59 154.31,242.34 155.20,242.09 156.10,241.83 156.99,241.58 157.89,241.33 158.78,241.07 159.68,240.81 160.58,240.56 161.47,240.30 162.37,240.04 163.26,239.78 164.16,239.53 165.05,239.27 165.95,239.01 166.84,238.75 167.74,238.48 168.63,238.22 169.53,237.96 170.43,237.70 171.32,237.43 172.22,237.17 173.11,236.91 174.01,236.64 174.90,236.38 175.80,236.11 176.69,235.84 177.59,235.57 178.49,235.31 179.38,235.04 180.28,234.77 181.17,234.50 182.07,234.23 182.96,233.96 183.86,233.69 184.75,233.41 185.65,233.14 186.54,232.87 187.44,232.59 188.34,232.32 189.23,232.04 190.13,231.77 191.02,231.49 191.92,231.22 192.81,230.94 193.71,230.66 194.60,230.38 195.50,230.10 196.39,229.82 197.29,229.54 198.19,229.26 199.08,228.98 199.98,228.69 200.87,228.41 201.77,228.13 202.66,227.84 203.56,227.56 204.45,227.27 205.35,226.99 206.25,226.70 207.14,226.41 208.04,226.12 208.93,225.83 209.83,225.54 210.72,225.25 211.62,224.96 212.51,224.67 213.41,224.38 214.30,224.09 215.20,223.79 216.10,223.50 216.99,223.20 217.89,222.91 218.78,222.61 219.68,222.32 220.57,222.02 221.47,221.72 222.36,221.42 223.26,221.12 224.15,220.82 225.05,220.52 225.95,220.22 226.84,219.92 227.74,219.62 228.63,219.31 229.53,219.01 230.42,218.70 231.32,218.40 232.21,218.09 233.11,217.79 234.00,217.48 234.90,217.17 235.80,216.86 236.69,216.55 237.59,216.24 238.48,215.93 239.38,215.62 240.27,215.31 241.17,214.99 242.06,214.68 242.96,214.37 243.86,214.05 244.75,213.74 245.65,213.42 246.54,213.10 247.44,212.78 248.33,212.47 249.23,212.15 250.12,211.83 251.02,211.51 251.91,211.19 252.81,210.86 253.71,210.54 254.60,210.22 255.50,209.89 256.39,209.57 257.29,209.24 258.18,208.92 259.08,208.59 259.97,208.26 260.87,207.93 261.76,207.61 262.66,207.28 263.56,206.95 264.45,206.61 265.35,206.28 266.24,205.95 267.14,205.62 268.03,205.28 268.93,204.95 269.82,204.61 270.72,204.28 271.61,203.94 272.51,203.60 273.41,203.26 274.30,202.92 275.20,202.58 276.09,202.24 276.99,201.90 277.88,201.56 278.78,201.22 279.67,200.88 280.57,200.53 281.47,200.19 282.36,199.84 283.26,199.49 284.15,199.15 285.05,198.80 285.94,198.45 286.84,198.10 287.73,197.75 288.63,197.40 289.52,197.05 290.42,196.70 291.32,196.35 292.21,195.99 293.11,195.64 294.00,195.28 294.90,194.93 295.79,194.57 296.69,194.21 297.58,193.86 298.48,193.50 299.37,193.14 300.27,192.78 301.17,192.42 302.06,192.06 302.96,191.69 303.85,191.33 304.75,190.97 305.64,190.60 306.54,190.24 307.43,189.87 308.33,189.50 309.22,189.14 310.12,188.77 311.02,188.40 311.91,188.03 312.81,187.66 313.70,187.29 314.60,186.92 315.49,186.54 316.39,186.17 317.28,185.80 318.18,185.42 319.08,185.05 319.97,184.67 320.87,184.29 321.76,183.92 322.66,183.54 323.55,183.16 324.45,182.78 325.34,182.40 326.24,182.02 327.13,181.63 328.03,181.25 328.93,180.87 329.82,180.48 330.72,180.10 331.61,179.71 332.51,179.33 333.40,178.94 334.30,178.55 335.19,178.16 336.09,177.77 336.98,177.38 337.88,176.99 338.78,176.60 339.67,176.21 340.57,175.81 341.46,175.42 342.36,175.03 343.25,174.63 344.15,174.23 345.04,173.84 345.94,173.44 346.83,173.04 347.73,172.64 348.63,172.24 349.52,171.84 350.42,171.44 351.31,171.04 352.21,170.64 353.10,170.23 354.00,169.83 354.89,169.43 355.79,169.02 356.69,168.61 357.58,168.21 358.48,167.80 359.37,167.39 360.27,166.98 361.16,166.57 362.06,166.16 362.95,165.75 363.85,165.34 364.74,164.93 365.64,164.51 366.54,164.10 367.43,163.68 368.33,163.27 369.22,162.85 370.12,162.43 371.01,162.02 371.91,161.60 372.80,161.18 373.70,160.76 374.59,160.34 375.49,159.92 376.39,159.49 377.28,159.07 378.18,158.65 379.07,158.22 379.97,157.80 380.86,157.37 381.76,156.95 382.65,156.52 383.55,156.09 384.44,155.66 385.34,155.24 386.24,154.81 387.13,154.37 388.03,153.94 388.92,153.51 389.82,153.08 390.71,152.65 391.61,152.21 392.50,151.78 393.40,151.34 394.30,150.91 395.19,150.47 396.09,150.03 396.98,149.59 397.88,149.15 398.77,148.71 399.67,148.27 400.56,147.83 401.46,147.39 402.35,146.95 403.25,146.51 404.15,146.06 405.04,145.62 405.94,145.17 406.83,144.73 407.73,144.28 408.62,143.83 409.52,143.39 410.41,142.94 411.31,142.49 412.20,142.04 413.10,141.59" stroke="#ffa500"/>
<polyline points="37.00,269.55 37.90,269.59 38.79,269.59 39.69,269.55 40.58,269.50 41.48,269.42 42.37,269.34 43.27,269.24 44.16,269.13 45.06,269.02 45.95,268.90 46.85,268.77 47.75,268.63 48.64,268.49 49.54,268.35 50.43,268.20 51.33,268.04 52.22,267.89 53.12,267.73 54.01,267.56 54.91,267.40 55.80,267.23 56.70,267.06 57.60,266.89 58.49,266.71 59.39,266.53 60.28,266.35 61.18,266.17 62.07,265.99 62.97,265.81 63.86,265.63 64.76,265.44 65.66,265.25 66.55,265.06 67.45,264.88 68.34,264.69 69.24,264.50 70.13,264.30 71.03,264.11 71.92,263.92 72.82,263.73 73.71,263.53 74.61,263.34 75.51,263.14 76.40,262.95 77.30,262.75 78.19,262.55 79.09,262.36 79.98,262.16 80.88,261.96 81.77,261.77 82.67,261.57 83.56,261.37 84.46,261.17 85.36,260.97 86.25,260.77 87.15,260.57 88.04,260.37 88.94,260.17 89.83,259.97 90.73,259.77 91.62,259.57 92.52,259.37 93.42,259.17 94.31,258.97 95.21,258.77 96.10,258.57 97.00,258.37 97.89,258.17 98.79,257.96 99.68,257.76 100.58,257.56 101.47,257.36 102.37,257.16 103.27,256.95 104.16,256.75 105.06,256.55 105.95,256.35 106.85,256.14 107.74,255.94 108.64,255.74 109.53,255.54 110.43,255.33 111.32,255.13 112.22,254.93 113.12,254.72 114.01,254.52 114.91,254.31 115.80,254.11 116.70,253.91 117.59,253.70 118.49,253.50 119.38,253.29 120.28,253.09 121.17,252.88 122.07,252.68 122.97,252.47 123.86,252.27 124.76,252.06 125.65,251.85 126.55,251.65 127.44,251.44 128.34,251.24 129.23,251.03 130.13,250.82 131.03,250.61 131.92,250.41 132.82,250.20 133.71,249.99 134.61,249.78 135.50,249.58 136.40,249.37 137.29,249.16 138.19,248.95 139.08,248.74 139.98,248.53 140.88,248.32 141.77,248.11 142.67,247.90 143.56,247.69 144.46,247.48 145.35,247.27 146.25,247.05 147.14,246.84 148.04,246.63 148.93,246.42 149.83,246.20 150.73,245.99 151.62,245.78 152.52,245.56 153.41,245.35 154.31,245.13 155.20,244.92 156.10,244.70 156.99,244.49 157.89,244.27 158.78,244.05 159.68,243.84 160.58,243.62 161.47,243.40 162.37,243.18 163.26,242.96 164.16,242.74 165.05,242.52 165.95,242.30 166.84,242.08 167.74,241.86 168.63,241.64 169.53,241.42 170.43,241.20 171.32,240.98 172.22,240.75 173.11,240.53 174.01,240.30 174.90,240.08 175.80,239.85 176.69,239.63 177.59,239.40 178.49,239.18 179.38,238.95 180.28,238.72 181.17,238.49 182.07,238.26 182.96,238.04 183.86,237.81 184.75,237.58 185.65,237.34 186.54,237.11 187.44,236.88 188.34,236.65 189.23,236.42 190.13,236.18 191.02,235.95 191.92,235.71 192.81,235.48 193.71,235.24 194.60,235.01 195.50,234.77 196.39,234.53 197.29,234.29 198.19,234.06 199.08,233.82 199.98,233.58 200.87,233.34 201.77,233.09 202.66,232.85 203.56,232.61 204.45,232.37 205.35,232.12 206.25,231.88 207.14,231.63 208.04,231.39 208.93,231.14 209.83,230.90 210.72,230.65 211.62,230.40 212.51,230.15 213.41,229.90 214.30,229.65 215.20,229.40 216.10,229.15 216.99,228.90 217.89,228.65 218.78,228.39 219.68,228.14 220.57,227.89 221.47,227.63 222.36,227.38 223.26,227.12 224.15,226.86 225.05,226.60 225.95,226.35 226.84,226.09 227.74,225.83 228.63,225.57 229.53,225.30 230.42,225.04 231.32,224.78 232.21,224.52 233.11,224.25 234.00,223.99 234.90,223.72 235.80,223.46 236.69,223.19 237.59,222.92 238.48,222.65 239.38,222.39 240.27,222.12 241.17,221.85 242.06,221.57 242.96,221.30 243.86,221.03 244.75,220.76 245.65,220.48 246.54,220.21 247.44,219.93 248.33,219.66 249.23,219.38 250.12,219.10 251.02,218.83 251.91,218.55 252.81,218.27 253.71,217.99 254.60,217.71 255.50,217.42 256.39,217.14 257.29,216.86 258.18,216.58 259.08,216.29 259.97,216.01 260.87,215.72 261.76,215.43 262.66,215.15 263.56,214.86 264.45,214.57 265.35,214.28 266.24,213.99 267.14,213.70 268.03,213.41 268.93,213.11 269.82,212.82 270.72,212.53 271.61,212.23 272.51,211.94 273.41,211.64 274.30,211.35 275.20,211.05 276.09,210.75 276.99,210.45 277.88,210.15 278.78,209.85 279.67,209.55 280.57,209.25 281.47,208.95 282.36,208.65 283.26,208.34 284.15,208.04 285.05,207.73 285.94,207.43 286.84,207.12 287.73,206.81 288.63,206.51 289.52,206.20 290.42,205.89 291.32,205.58 292.21,205.27 293.11,204.96 294.00,204.64 294.90,204.33 295.79,204.02 296.69,203.70 297.58,203.39 298.48,203.07 299.37,202.76 300.27,202.44 301.17,202.13 302.06,201.81 302.96,201.49 303.85,201.17 304.75,200.85 305.64,200.53 306.54,200.21 307.43,199.89 308.33,199.56 309.22,199.24 310.12,198.92 311.02,198.59 311.91,198.27 312.81,197.94 313.70,197.61 314.60,197.29 315.49,196.96 316.39,196.63 317.28,196.30 318.18,195.97 319.08,195.64 319.97,195.31 320.87,194.98 321.76,194.65 322.66,194.32 323.55,193.98 324.45,193.65 325.34,193.32 326.24,192.98 327.13,192.65 328.03,192.31 328.93,191.97 329.82,191.64 330.72,191.30 331.61,190.96 332.51,190.62 333.40,190.28 334.30,189.94 335.19,189.60 336.09,189.26 336.98,188.92 337.88,188.58 338.78,188.23 339.67,187.89 340.57,187.55 341.46,187.20 342.36,186.86 343.25,186.51 344.15,186.16 345.04,185.82 345.94,185.47 346.83,185.12 347.73,184.78 348.63,184.43 349.52,184.08 350.42,183.73 351.31,183.38 352.21,183.03 353.10,182.68 354.00,182.33 354.89,181.97 355.79,181.62 356.69,181.27 357.58,180.92 358.48,180.56 359.37,180.21 360.27,179.85 361.16,179.50 362.06,179.14 362.95,178.79 363.85,178.43 364.74,178.08 365.64,177.72 366.54,177.36 367.43,177.00 368.33,176.64 369.22,176.29 370.12,175.93 371.01,175.57 371.91,175.21 372.80,174.85 373.70,174.49 374.59,174.13 375.49,173.76 376.39,173.40 377.28,173.04 378.18,172.68 379.07,172.32 379.97,171.95 380.86,171.59 381.76,171.23 382.65,170.86 383.55,170.50 384.44,170.13 385.34,169.77 386.24,169.40 387.13,169.04 388.03,168.67 388.92,168.31 389.82,167.94 390.71,167.57 391.61,167.21 392.50,166.84 393.40,166.47 394.30,166.11 395.19,165.74 396.09,165.37 396.98,165.00 397.88,164.63 398.77,164.27 399.67,163.90 400.56,163.53 401.46,163.16 402.35,162.79 403.25,162.42 404.15,162.05 405.04,161.68 405.94,161.31 406.83,160.94 407.73,160.57 408.62,160.20 409.52,159.83 410.41,159.46 411.31,159.09 412.20,158.72 413.10,158.35" stroke="#ff0000"/>
</g>
<path d="M37.00,269.55v-7M37.00,6.8v7M59.39,269.55v-3.5M59.39,6.8v3.5M81.77,269.55v-3.5M81.77,6.8v3.5M104.16,269.55v-3.5M104.16,6.8v3.5M126.55,269.55v-7M126.55,6.8v7M148.93,269.55v-3.5M148.93,6.8v3.5M171.32,269.55v-3.5M171.32,6.8v3.5M193.71,269.55v-3.5M193.71,6.8v3.5M216.10,269.55v-7M216.10,6.8v7M238.48,269.55v-3.5M238.48,6.8v3.5M260.87,269.55v-3.5M260.87,6.8v3.5M283.26,269.55v-3.5M283.26,6.8v3.5M305.64,269.55v-7M305.64,6.8v7M328.03,269.55v-3.5M328.03,6.8v3.5M350.42,269.55v-3.5M350.42,6.8v3.5M372.80,269.55v-3.5M372.80,6.8v3.5M395.19,269.55v-7M395.19,6.8v7M37.0,269.55h7M413.1,269.55h-7M37.0,259.04h3.5M413.1,259.04h-3.5M37.0,248.53h3.5M413.1,248.53h-3.5M37.0,238.02h3.5M413.1,238.02h-3.5M37.0,227.51h3.5M413.1,227.51h-3.5M37.0,217.00h7M413.1,217.00h-7M37.0,206.49h3.5M413.1,206.49h-3.5M37.0,195.98h3.5M413.1,195.98h-3.5M37.0,185.47h3.5M413.1,185.47h-3.5M37.0,174.96h3.5M413.1,174.96h-3.5M37.0,164.45h7M413.1,164.45h-7M37.0,153.94h3.5M413.1,153.94h-3.5M37.0,143.43h3.5M413.1,143.43h-3.5M37.0,132.92h3.5M413.1,132.92h-3.5M37.0,122.41h3.5M413.1,122.41h-3.5M37.0,111.90h7M413.1,111.90h-7M37.0,101.39h3.5M413.1,101.39h-3.5M37.0,90.88h3.5M413.1,90.88h-3.5M37.0,80.37h3.5M413.1,80.37h-3.5M37.0,69.86h3.5M413.1,69.86h-3.5M37.0,59.35h7M413.1,59.35h-7M37.0,48.84h3.5M413.1,48.84h-3.5M37.0,38.33h3.5M413.1,38.33h-3.5M37.0,27.82h3.5M413.1,27.82h-3.5M37.0,17.31h3.5M413.1,17.31h-3.5M37.0,6.80h7M413.1,6.80h-7" stroke="#3a3a3a" stroke-width="1.5" fill="none"/>
<rect x="37.0" y="7.0" width="376.1" height="262.55" fill="none" stroke="#505050" stroke-width="1.9"/>
<text x="37.00" y="285" font-size="16" text-anchor="middle">0</text>
<text x="126.55" y="285" font-size="16" text-anchor="middle">10</text>
<text x="216.10" y="285" font-size="16" text-anchor="middle">20</text>
<text x="305.64" y="285" font-size="16" text-anchor="middle">30</text>
<text x="395.19" y="285" font-size="16" text-anchor="middle">40</text>
<text x="34" y="274.65" font-size="16" text-anchor="end">0</text>
<text x="34" y="222.10" font-size="16" text-anchor="end">5</text>
<text x="34" y="169.55" font-size="16" text-anchor="end">10</text>
<text x="34" y="117.00" font-size="16" text-anchor="end">15</text>
<text x="34" y="64.45" font-size="16" text-anchor="end">20</text>
<text x="34" y="11.90" font-size="16" text-anchor="end">25</text>
<text x="225.8" y="299.3" font-size="16" text-anchor="middle">hΩ [MeV]</text>
<text transform="translate(13.3,138) rotate(-90)" font-size="16" text-anchor="middle"><tspan font-style="italic">E</tspan> [MeV]</text>
<rect x="48.8" y="14.3" width="87.7" height="126.7" fill="#fff" stroke="#000" stroke-width="1.5"/>
<path d="M59.70,26.50H67.30M63.50,22.70V30.30" stroke="#000000" stroke-width="1.8" fill="none"/>
<text x="82" y="28.7" font-size="16"><tspan font-style="italic">N</tspan><tspan font-size="10.8" dx="1" dy="6">max</tspan><tspan dy="-3.9">=</tspan><tspan dy="-2.1"> 3</tspan></text>
<polygon points="59.25,44.40 63.50,40.15 67.75,44.40 63.50,48.65" fill="#670748"/>
<text x="132.8" y="49.80" font-size="16" text-anchor="end">5</text>
<polygon points="68.50,59.00 61.00,54.67 61.00,63.33" fill="#9400d3"/>
<text x="132.8" y="64.40" font-size="16" text-anchor="end">7</text>
<polygon points="58.50,73.60 66.00,69.27 66.00,77.93" fill="#0000ff"/>
<text x="132.8" y="79.00" font-size="16" text-anchor="end">9</text>
<polygon points="63.50,93.20 59.17,85.70 67.83,85.70" fill="#008b00"/>
<text x="132.8" y="93.60" font-size="16" text-anchor="end">11</text>
<polygon points="63.50,98.00 59.17,105.50 67.83,105.50" fill="#40e0d0"/>
<text x="132.8" y="108.40" font-size="16" text-anchor="end">13</text>
<rect x="59.95" y="113.85" width="7.1" height="7.1" fill="#ffa500"/>
<text x="132.8" y="122.80" font-size="16" text-anchor="end">15</text>
<circle cx="63.50" cy="132.00" r="4.15" fill="#ff0000"/>
<text x="132.8" y="137.40" font-size="16" text-anchor="end">17</text>
<text x="149.6" y="33.6" font-size="18.5" textLength="79.6" lengthAdjust="spacingAndGlyphs">Daejeon16</text>
<text x="150.2" y="62.7" font-size="18" font-style="italic">n</text>
<text x="159.3" y="62.7" font-size="18.5" textLength="11.6" lengthAdjust="spacingAndGlyphs">α</text>
<text x="170.6" y="62.7" font-size="18">,</text>
<text x="178.4" y="62.7" font-size="19" textLength="25.4" lengthAdjust="spacingAndGlyphs">1/2</text>
<text x="203.6" y="53.2" font-size="12.8">+</text>
</svg></body></html>
